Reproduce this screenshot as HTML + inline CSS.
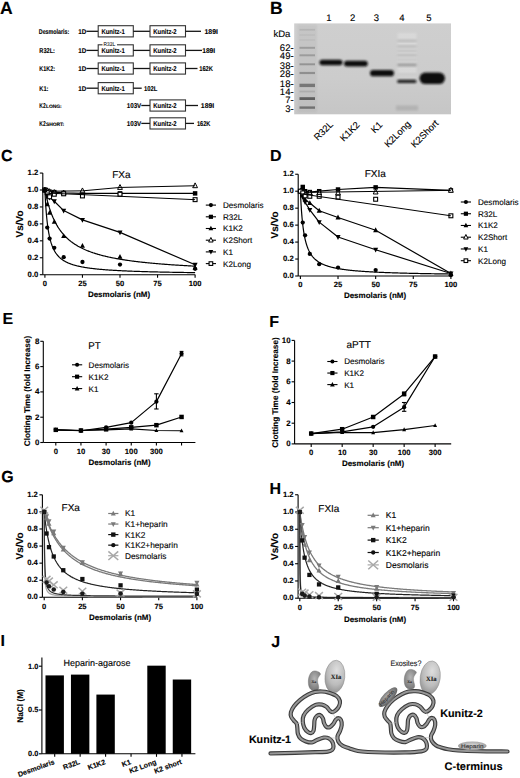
<!DOCTYPE html>
<html><head><meta charset="utf-8"><title>Figure</title>
<style>
html,body{margin:0;padding:0;background:#fff;}
svg{display:block;font-family:"Liberation Sans",sans-serif;text-rendering:geometricPrecision;}
</style></head>
<body>
<svg width="520" height="778" viewBox="0 0 520 778">
<rect width="520" height="778" fill="#fff"/>
<text x="0" y="13.8" font-size="17.6" font-weight="bold" stroke="#000" stroke-width="0.12">A</text>
<text x="38.8" y="34.21" font-size="7" font-weight="bold" stroke="#000" stroke-width="0.12" textLength="30.5" lengthAdjust="spacingAndGlyphs">Desmolaris:</text>
<text x="39.3" y="53.31" font-size="7" font-weight="bold" stroke="#000" stroke-width="0.12" textLength="15.7" lengthAdjust="spacingAndGlyphs">R32L:</text>
<text x="39.3" y="71.41" font-size="7" font-weight="bold" stroke="#000" stroke-width="0.12" textLength="15.7" lengthAdjust="spacingAndGlyphs">K1K2:</text>
<text x="39.3" y="91.11" font-size="7" font-weight="bold" stroke="#000" stroke-width="0.12" textLength="9.2" lengthAdjust="spacingAndGlyphs">K1:</text>
<text x="39.3" y="108.41" font-size="7" font-weight="bold" stroke="#000" stroke-width="0.12" textLength="6.4" lengthAdjust="spacingAndGlyphs">K2</text>
<text x="45.9" y="108.41" font-size="5" font-weight="bold" stroke="#000" stroke-width="0.12" textLength="15.8" lengthAdjust="spacingAndGlyphs">LONG:</text>
<text x="39.3" y="126.31" font-size="7" font-weight="bold" stroke="#000" stroke-width="0.12" textLength="6.4" lengthAdjust="spacingAndGlyphs">K2</text>
<text x="45.9" y="126.31" font-size="5" font-weight="bold" stroke="#000" stroke-width="0.12" textLength="18.3" lengthAdjust="spacingAndGlyphs">SHORT:</text>
<text x="78.3" y="34.11" font-size="7" font-weight="bold" stroke="#000" stroke-width="0.12" textLength="8" lengthAdjust="spacingAndGlyphs">1D</text>
<line x1="86.4" y1="31.3" x2="98.2" y2="31.3" stroke="#151515" stroke-width="1.3" />
<rect x="98.2" y="25.7" width="35.1" height="11.2" fill="#fff" stroke="#333" stroke-width="1.1" />
<text x="101.4" y="34.11" font-size="7" font-weight="bold" stroke="#000" stroke-width="0.12" textLength="23.5" lengthAdjust="spacingAndGlyphs">Kunitz-1</text>
<line x1="133.3" y1="31.3" x2="150" y2="31.3" stroke="#151515" stroke-width="1.3" />
<rect x="150" y="25.7" width="35.5" height="11.2" fill="#fff" stroke="#333" stroke-width="1.1" />
<text x="153.2" y="34.11" font-size="7" font-weight="bold" stroke="#000" stroke-width="0.12" textLength="23.5" lengthAdjust="spacingAndGlyphs">Kunitz-2</text>
<text x="78.3" y="53.21" font-size="7" font-weight="bold" stroke="#000" stroke-width="0.12" textLength="8" lengthAdjust="spacingAndGlyphs">1D</text>
<line x1="86.4" y1="50.4" x2="98.2" y2="50.4" stroke="#151515" stroke-width="1.3" />
<rect x="98.2" y="44.8" width="35.1" height="11.2" fill="#fff" stroke="#333" stroke-width="1.1" />
<text x="101.4" y="53.21" font-size="7" font-weight="bold" stroke="#000" stroke-width="0.12" textLength="23.5" lengthAdjust="spacingAndGlyphs">Kunitz-1</text>
<line x1="133.3" y1="50.4" x2="150" y2="50.4" stroke="#151515" stroke-width="1.3" />
<rect x="150" y="44.8" width="35.5" height="11.2" fill="#fff" stroke="#333" stroke-width="1.1" />
<text x="153.2" y="53.21" font-size="7" font-weight="bold" stroke="#000" stroke-width="0.12" textLength="23.5" lengthAdjust="spacingAndGlyphs">Kunitz-2</text>
<text x="78.3" y="71.31" font-size="7" font-weight="bold" stroke="#000" stroke-width="0.12" textLength="8" lengthAdjust="spacingAndGlyphs">1D</text>
<line x1="86.4" y1="68.5" x2="98.2" y2="68.5" stroke="#151515" stroke-width="1.3" />
<rect x="98.2" y="62.9" width="35.1" height="11.2" fill="#fff" stroke="#333" stroke-width="1.1" />
<text x="101.4" y="71.31" font-size="7" font-weight="bold" stroke="#000" stroke-width="0.12" textLength="23.5" lengthAdjust="spacingAndGlyphs">Kunitz-1</text>
<line x1="133.3" y1="68.5" x2="150" y2="68.5" stroke="#151515" stroke-width="1.3" />
<rect x="150" y="62.9" width="35.5" height="11.2" fill="#fff" stroke="#333" stroke-width="1.1" />
<text x="153.2" y="71.31" font-size="7" font-weight="bold" stroke="#000" stroke-width="0.12" textLength="23.5" lengthAdjust="spacingAndGlyphs">Kunitz-2</text>
<text x="78.3" y="91.01" font-size="7" font-weight="bold" stroke="#000" stroke-width="0.12" textLength="8" lengthAdjust="spacingAndGlyphs">1D</text>
<line x1="86.4" y1="88.2" x2="98.2" y2="88.2" stroke="#151515" stroke-width="1.3" />
<rect x="98.2" y="82.6" width="35.1" height="11.2" fill="#fff" stroke="#333" stroke-width="1.1" />
<text x="101.4" y="91.01" font-size="7" font-weight="bold" stroke="#000" stroke-width="0.12" textLength="23.5" lengthAdjust="spacingAndGlyphs">Kunitz-1</text>
<rect x="150" y="99.9" width="35.5" height="11.2" fill="#fff" stroke="#333" stroke-width="1.1" />
<text x="153.2" y="108.31" font-size="7" font-weight="bold" stroke="#000" stroke-width="0.12" textLength="23.5" lengthAdjust="spacingAndGlyphs">Kunitz-2</text>
<text x="126.7" y="108.31" font-size="7" font-weight="bold" stroke="#000" stroke-width="0.12" textLength="14.6" lengthAdjust="spacingAndGlyphs">103V</text>
<line x1="141.3" y1="105.5" x2="150" y2="105.5" stroke="#151515" stroke-width="1.3" />
<rect x="150" y="117.8" width="35.5" height="11.2" fill="#fff" stroke="#333" stroke-width="1.1" />
<text x="153.2" y="126.21" font-size="7" font-weight="bold" stroke="#000" stroke-width="0.12" textLength="23.5" lengthAdjust="spacingAndGlyphs">Kunitz-2</text>
<text x="126.7" y="126.21" font-size="7" font-weight="bold" stroke="#000" stroke-width="0.12" textLength="14.6" lengthAdjust="spacingAndGlyphs">103V</text>
<line x1="141.3" y1="123.4" x2="150" y2="123.4" stroke="#151515" stroke-width="1.3" />
<line x1="185.5" y1="31.3" x2="201" y2="31.3" stroke="#151515" stroke-width="1.3" />
<text x="204.5" y="34.11" font-size="7" font-weight="bold" stroke="#000" stroke-width="0.12" textLength="13.5" lengthAdjust="spacingAndGlyphs">189I</text>
<line x1="185.5" y1="50.4" x2="202" y2="50.4" stroke="#151515" stroke-width="1.3" />
<text x="202.2" y="53.21" font-size="7" font-weight="bold" stroke="#000" stroke-width="0.12" textLength="13" lengthAdjust="spacingAndGlyphs">189I</text>
<line x1="185.5" y1="68.5" x2="197.5" y2="68.5" stroke="#151515" stroke-width="1.3" />
<text x="199.2" y="71.31" font-size="7" font-weight="bold" stroke="#000" stroke-width="0.12" textLength="13.8" lengthAdjust="spacingAndGlyphs">162K</text>
<line x1="185.5" y1="105.5" x2="198" y2="105.5" stroke="#151515" stroke-width="1.3" />
<text x="200.8" y="108.31" font-size="7" font-weight="bold" stroke="#000" stroke-width="0.12" textLength="13.4" lengthAdjust="spacingAndGlyphs">189I</text>
<line x1="185.5" y1="123.4" x2="194" y2="123.4" stroke="#151515" stroke-width="1.3" />
<text x="196.9" y="126.21" font-size="7" font-weight="bold" stroke="#000" stroke-width="0.12" textLength="13.5" lengthAdjust="spacingAndGlyphs">162K</text>
<line x1="133.3" y1="88.2" x2="141.7" y2="88.2" stroke="#151515" stroke-width="1.3" />
<text x="144" y="91.01" font-size="7" font-weight="bold" stroke="#000" stroke-width="0.12" textLength="13.5" lengthAdjust="spacingAndGlyphs">102L</text>
<rect x="102.5" y="43" width="14.5" height="3.2" fill="#fff" />
<text x="103.6" y="46.4" font-size="5.3" fill="#222" stroke="#222" stroke-width="0.12" textLength="11.6" lengthAdjust="spacingAndGlyphs">R32L</text>
<text x="270" y="13.6" font-size="17.6" font-weight="bold" stroke="#000" stroke-width="0.12">B</text>
<defs><filter id="blur1" x="-20%" y="-50%" width="140%" height="200%"><feGaussianBlur stdDeviation="0.9"/></filter><filter id="blur2" x="-20%" y="-50%" width="140%" height="200%"><feGaussianBlur stdDeviation="1.1"/></filter><filter id="blur05" x="-20%" y="-50%" width="140%" height="200%"><feGaussianBlur stdDeviation="0.45"/></filter><radialGradient id="gXIa" cx="0.55" cy="0.3" r="0.75"><stop offset="0" stop-color="#dedede"/><stop offset="0.6" stop-color="#bcbcbc"/><stop offset="1" stop-color="#8c8c8c"/></radialGradient><radialGradient id="gXa" cx="0.5" cy="0.4" r="0.7"><stop offset="0" stop-color="#b5b5b5"/><stop offset="1" stop-color="#6f6f6f"/></radialGradient><radialGradient id="gHep" cx="0.5" cy="0.4" r="0.65"><stop offset="0" stop-color="#b8b8b8"/><stop offset="1" stop-color="#555"/></radialGradient><radialGradient id="gHep2" cx="0.5" cy="0.45" r="0.6"><stop offset="0" stop-color="#d8d8d8"/><stop offset="0.75" stop-color="#a8a8a8"/><stop offset="1" stop-color="#6e6e6e"/></radialGradient><linearGradient id="gGel" x1="0" y1="0" x2="0" y2="1"><stop offset="0" stop-color="#cfcfcf"/><stop offset="0.6" stop-color="#cccccc"/><stop offset="1" stop-color="#c6c6c6"/></linearGradient></defs>
<rect x="294.2" y="23.4" width="156.8" height="90.9" fill="url(#gGel)" />
<text x="328.9" y="21.4" font-size="9.5" text-anchor="middle" stroke="#000" stroke-width="0.12">1</text>
<text x="352.6" y="21.4" font-size="9.5" text-anchor="middle" stroke="#000" stroke-width="0.12">2</text>
<text x="376.4" y="21.4" font-size="9.5" text-anchor="middle" stroke="#000" stroke-width="0.12">3</text>
<text x="401.8" y="21.4" font-size="9.5" text-anchor="middle" stroke="#000" stroke-width="0.12">4</text>
<text x="429" y="21.4" font-size="9.5" text-anchor="middle" stroke="#000" stroke-width="0.12">5</text>
<text x="273.4" y="36.6" font-size="9.5" stroke="#000" stroke-width="0.12">kDa</text>
<text x="293.6" y="51" font-size="9.5" text-anchor="end" stroke="#000" stroke-width="0.12">62-</text>
<text x="293.6" y="58.8" font-size="9.5" text-anchor="end" stroke="#000" stroke-width="0.12">49-</text>
<text x="293.6" y="68.8" font-size="9.5" text-anchor="end" stroke="#000" stroke-width="0.12">38-</text>
<text x="293.6" y="76.9" font-size="9.5" text-anchor="end" stroke="#000" stroke-width="0.12">28-</text>
<text x="293.6" y="86.9" font-size="9.5" text-anchor="end" stroke="#000" stroke-width="0.12">18-</text>
<text x="293.6" y="95" font-size="9.5" text-anchor="end" stroke="#000" stroke-width="0.12">14-</text>
<text x="293.6" y="102.8" font-size="9.5" text-anchor="end" stroke="#000" stroke-width="0.12">7-</text>
<text x="293.6" y="112.1" font-size="9.5" text-anchor="end" stroke="#000" stroke-width="0.12">3-</text>
<rect x="297.5" y="24.5" width="19.5" height="88" fill="#000" opacity="0.04" filter="url(#blur1)"/>
<rect x="299.5" y="28.9" width="15.5" height="1.8" fill="#000" opacity="0.08" filter="url(#blur05)"/>
<rect x="299.5" y="34.1" width="15.5" height="1.8" fill="#000" opacity="0.04" filter="url(#blur05)"/>
<rect x="299.5" y="39.1" width="15.5" height="1.8" fill="#000" opacity="0.04" filter="url(#blur05)"/>
<rect x="299.5" y="46.8" width="15.5" height="2" fill="#000" opacity="0.2" filter="url(#blur05)"/>
<rect x="299.5" y="54.3" width="15.5" height="2" fill="#000" opacity="0.2" filter="url(#blur05)"/>
<rect x="299.5" y="63.3" width="15.5" height="2" fill="#000" opacity="0.24" filter="url(#blur05)"/>
<rect x="299.5" y="71.9" width="15.5" height="2.2" fill="#000" opacity="0.26" filter="url(#blur05)"/>
<rect x="299.5" y="83.7" width="15.5" height="3.4" fill="#000" opacity="0.38" filter="url(#blur05)"/>
<rect x="299.5" y="90.6" width="15.5" height="1.8" fill="#000" opacity="0.1" filter="url(#blur05)"/>
<rect x="299.5" y="97.2" width="15.5" height="2.8" fill="#000" opacity="0.5" filter="url(#blur05)"/>
<rect x="299.5" y="106.4" width="15.5" height="2.4" fill="#000" opacity="0.4" filter="url(#blur05)"/>
<rect x="319.4" y="59.7" width="23.2" height="5.6" rx="2.8" fill="#111" opacity="1" filter="url(#blur1)"/>
<rect x="344" y="60.7" width="23.8" height="5.8" rx="2.9" fill="#111" opacity="1" filter="url(#blur1)"/>
<rect x="370" y="70.1" width="24" height="6.2" rx="3.1" fill="#111" opacity="1" filter="url(#blur1)"/>
<rect x="419.5" y="72.5" width="25.5" height="11.6" rx="5.8" fill="#111" opacity="1" filter="url(#blur1)"/>
<rect x="397.5" y="33" width="19" height="44" fill="#fff" opacity="0.22" filter="url(#blur1)"/>
<rect x="397.5" y="39.7" width="19" height="2.2" fill="#000" opacity="0.15" filter="url(#blur1)"/>
<rect x="397.5" y="45.4" width="19" height="2.2" fill="#000" opacity="0.15" filter="url(#blur1)"/>
<rect x="397.5" y="49.9" width="19" height="2" fill="#000" opacity="0.12" filter="url(#blur1)"/>
<rect x="397.5" y="54.1" width="19" height="2.2" fill="#000" opacity="0.15" filter="url(#blur1)"/>
<rect x="397.5" y="58.6" width="19" height="2" fill="#000" opacity="0.1" filter="url(#blur1)"/>
<rect x="397.5" y="63.4" width="19" height="3" fill="#000" opacity="0.27" filter="url(#blur1)"/>
<rect x="397.5" y="73.5" width="19" height="2" fill="#000" opacity="0.08" filter="url(#blur1)"/>
<rect x="397" y="79.7" width="19.5" height="3.4" rx="1.7" fill="#111" opacity="0.9" filter="url(#blur1)"/>
<rect x="396" y="105.5" width="22" height="5" fill="#000" opacity="0.1" filter="url(#blur1)"/>
<text x="333.8" y="125" font-size="9.5" text-anchor="end" stroke="#000" stroke-width="0.12" transform="rotate(-45 333.8 125)">R32L</text>
<text x="360.3" y="125.5" font-size="9.5" text-anchor="end" stroke="#000" stroke-width="0.12" transform="rotate(-45 360.3 125.5)">K1K2</text>
<text x="383" y="125.5" font-size="9.5" text-anchor="end" stroke="#000" stroke-width="0.12" transform="rotate(-45 383 125.5)">K1</text>
<text x="411.3" y="124.8" font-size="9.5" text-anchor="end" stroke="#000" stroke-width="0.12" transform="rotate(-45 411.3 124.8)">K2Long</text>
<text x="439" y="124" font-size="9.5" text-anchor="end" stroke="#000" stroke-width="0.12" transform="rotate(-45 439 124)">K2Short</text>
<text x="1" y="161" font-size="16" font-weight="bold" stroke="#000" stroke-width="0.12">C</text>
<line x1="42.8" y1="173.06" x2="42.8" y2="274.7" stroke="#000" stroke-width="1.1" />
<line x1="39.8" y1="274.7" x2="42.8" y2="274.7" stroke="#000" stroke-width="1.1" />
<text x="38.3" y="276.86" font-size="7.7" font-weight="bold" text-anchor="end" stroke="#000" stroke-width="0.12">0.0</text>
<line x1="39.8" y1="257.76" x2="42.8" y2="257.76" stroke="#000" stroke-width="1.1" />
<text x="38.3" y="259.92" font-size="7.7" font-weight="bold" text-anchor="end" stroke="#000" stroke-width="0.12">0.2</text>
<line x1="39.8" y1="240.82" x2="42.8" y2="240.82" stroke="#000" stroke-width="1.1" />
<text x="38.3" y="242.98" font-size="7.7" font-weight="bold" text-anchor="end" stroke="#000" stroke-width="0.12">0.4</text>
<line x1="39.8" y1="223.88" x2="42.8" y2="223.88" stroke="#000" stroke-width="1.1" />
<text x="38.3" y="226.04" font-size="7.7" font-weight="bold" text-anchor="end" stroke="#000" stroke-width="0.12">0.6</text>
<line x1="39.8" y1="206.94" x2="42.8" y2="206.94" stroke="#000" stroke-width="1.1" />
<text x="38.3" y="209.1" font-size="7.7" font-weight="bold" text-anchor="end" stroke="#000" stroke-width="0.12">0.8</text>
<line x1="39.8" y1="190" x2="42.8" y2="190" stroke="#000" stroke-width="1.1" />
<text x="38.3" y="192.16" font-size="7.7" font-weight="bold" text-anchor="end" stroke="#000" stroke-width="0.12">1.0</text>
<line x1="39.8" y1="173.06" x2="42.8" y2="173.06" stroke="#000" stroke-width="1.1" />
<text x="38.3" y="175.22" font-size="7.7" font-weight="bold" text-anchor="end" stroke="#000" stroke-width="0.12">1.2</text>
<line x1="42.8" y1="274.7" x2="195.3" y2="274.7" stroke="#000" stroke-width="1.1" />
<line x1="44.9" y1="274.7" x2="44.9" y2="277.7" stroke="#000" stroke-width="1.1" />
<text x="44.9" y="286.02" font-size="7.6" font-weight="bold" text-anchor="middle" stroke="#000" stroke-width="0.12">0</text>
<line x1="82.45" y1="274.7" x2="82.45" y2="277.7" stroke="#000" stroke-width="1.1" />
<text x="82.45" y="286.02" font-size="7.6" font-weight="bold" text-anchor="middle" stroke="#000" stroke-width="0.12">25</text>
<line x1="120" y1="274.7" x2="120" y2="277.7" stroke="#000" stroke-width="1.1" />
<text x="120" y="286.02" font-size="7.6" font-weight="bold" text-anchor="middle" stroke="#000" stroke-width="0.12">50</text>
<line x1="157.55" y1="274.7" x2="157.55" y2="277.7" stroke="#000" stroke-width="1.1" />
<text x="157.55" y="286.02" font-size="7.6" font-weight="bold" text-anchor="middle" stroke="#000" stroke-width="0.12">75</text>
<line x1="195.1" y1="274.7" x2="195.1" y2="277.7" stroke="#000" stroke-width="1.1" />
<text x="195.1" y="286.02" font-size="7.6" font-weight="bold" text-anchor="middle" stroke="#000" stroke-width="0.12">100</text>
<text x="112.2" y="178.38" font-size="10" stroke="#000" stroke-width="0.12">FXa</text>
<text x="119" y="297.46" font-size="8" font-weight="bold" text-anchor="middle" stroke="#000" stroke-width="0.12">Desmolaris (nM)</text>
<text x="22.6" y="223.9" font-size="10" font-weight="bold" text-anchor="middle" stroke="#000" stroke-width="0.12" transform="rotate(-90 22.6 223.9)">Vs/Vo</text>
<path d="M44.9 190 L44.9 190.01 L44.9 190.06 L44.91 190.13 L44.91 190.25 L44.92 190.41 L44.93 190.62 L44.94 190.86 L44.95 191.15 L44.97 191.49 L44.98 191.86 L45 192.29 L45.03 192.75 L45.05 193.26 L45.08 193.82 L45.11 194.41 L45.14 195.04 L45.17 195.71 L45.21 196.42 L45.25 197.16 L45.29 197.94 L45.33 198.75 L45.38 199.58 L45.43 200.45 L45.48 201.33 L45.53 202.24 L45.59 203.18 L45.65 204.13 L45.71 205.09 L45.78 206.08 L45.85 207.07 L45.92 208.07 L45.99 209.09 L46.07 210.11 L46.15 211.13 L46.23 212.16 L46.32 213.19 L46.4 214.22 L46.49 215.24 L46.59 216.27 L46.68 217.29 L46.78 218.3 L46.89 219.31 L46.99 220.31 L47.1 221.3 L47.21 222.28 L47.33 223.25 L47.44 224.21 L47.57 225.16 L47.69 226.1 L47.82 227.02 L47.95 227.93 L48.08 228.83 L48.21 229.71 L48.35 230.58 L48.5 231.43 L48.64 232.27 L48.79 233.1 L48.94 233.91 L49.1 234.7 L49.25 235.48 L49.42 236.25 L49.58 237 L49.75 237.73 L49.92 238.45 L50.09 239.16 L50.27 239.85 L50.45 240.52 L50.63 241.19 L50.82 241.83 L51.01 242.47 L51.21 243.09 L51.4 243.7 L51.6 244.29 L51.81 244.87 L52.01 245.44 L52.22 245.99 L52.44 246.54 L52.66 247.07 L52.88 247.59 L53.1 248.1 L53.33 248.59 L53.56 249.08 L53.79 249.55 L54.03 250.01 L54.27 250.47 L54.51 250.91 L54.76 251.34 L55.01 251.77 L55.27 252.18 L55.53 252.58 L55.79 252.98 L56.05 253.36 L56.32 253.74 L56.59 254.11 L56.87 254.47 L57.15 254.82 L57.43 255.17 L57.71 255.51 L58 255.83 L58.3 256.16 L58.59 256.47 L58.89 256.78 L59.2 257.08 L59.5 257.38 L59.81 257.66 L60.13 257.95 L60.45 258.22 L60.77 258.49 L61.09 258.76 L61.42 259.01 L61.75 259.27 L62.09 259.52 L62.43 259.76 L62.77 259.99 L63.12 260.23 L63.47 260.45 L63.82 260.68 L64.18 260.89 L64.54 261.11 L64.91 261.32 L65.28 261.52 L65.65 261.72 L66.02 261.92 L66.4 262.11 L66.79 262.3 L67.18 262.48 L67.57 262.66 L67.96 262.84 L68.36 263.01 L68.76 263.18 L69.17 263.35 L69.58 263.51 L69.99 263.67 L70.41 263.83 L70.83 263.98 L71.25 264.14 L71.68 264.28 L72.11 264.43 L72.55 264.57 L72.99 264.71 L73.43 264.85 L73.88 264.98 L74.33 265.11 L74.78 265.24 L75.24 265.37 L75.7 265.5 L76.17 265.62 L76.64 265.74 L77.11 265.86 L77.59 265.97 L78.07 266.09 L78.56 266.2 L79.04 266.31 L79.54 266.42 L80.03 266.52 L80.54 266.63 L81.04 266.73 L81.55 266.83 L82.06 266.93 L82.58 267.02 L83.1 267.12 L83.62 267.21 L84.15 267.3 L84.68 267.39 L85.22 267.48 L85.75 267.57 L86.3 267.66 L86.85 267.74 L87.4 267.82 L87.95 267.91 L88.51 267.99 L89.07 268.06 L89.64 268.14 L90.21 268.22 L90.79 268.29 L91.37 268.37 L91.95 268.44 L92.54 268.51 L93.13 268.58 L93.72 268.65 L94.32 268.72 L94.92 268.79 L95.53 268.85 L96.14 268.92 L96.75 268.98 L97.37 269.04 L98 269.11 L98.62 269.17 L99.25 269.23 L99.89 269.29 L100.53 269.34 L101.17 269.4 L101.82 269.46 L102.47 269.51 L103.12 269.57 L103.78 269.62 L104.44 269.68 L105.11 269.73 L105.78 269.78 L106.46 269.83 L107.13 269.88 L107.82 269.93 L108.51 269.98 L109.2 270.03 L109.89 270.07 L110.59 270.12 L111.3 270.17 L112 270.21 L112.71 270.26 L113.43 270.3 L114.15 270.34 L114.87 270.39 L115.6 270.43 L116.34 270.47 L117.07 270.51 L117.81 270.55 L118.56 270.59 L119.31 270.63 L120.06 270.67 L120.82 270.71 L121.58 270.75 L122.34 270.78 L123.11 270.82 L123.89 270.86 L124.66 270.89 L125.45 270.93 L126.23 270.96 L127.02 271 L127.82 271.03 L128.62 271.06 L129.42 271.1 L130.23 271.13 L131.04 271.16 L131.85 271.19 L132.67 271.23 L133.5 271.26 L134.32 271.29 L135.16 271.32 L135.99 271.35 L136.83 271.38 L137.68 271.41 L138.53 271.43 L139.38 271.46 L140.24 271.49 L141.1 271.52 L141.96 271.55 L142.83 271.57 L143.71 271.6 L144.59 271.63 L145.47 271.65 L146.36 271.68 L147.25 271.7 L148.14 271.73 L149.04 271.75 L149.95 271.78 L150.86 271.8 L151.77 271.82 L152.69 271.85 L153.61 271.87 L154.53 271.9 L155.46 271.92 L156.4 271.94 L157.34 271.96 L158.28 271.98 L159.23 272.01 L160.18 272.03 L161.13 272.05 L162.09 272.07 L163.06 272.09 L164.03 272.11 L165 272.13 L165.98 272.15 L166.96 272.17 L167.94 272.19 L168.93 272.21 L169.93 272.23 L170.93 272.25 L171.93 272.27 L172.94 272.29 L173.95 272.31 L174.96 272.32 L175.98 272.34 L177.01 272.36 L178.04 272.38 L179.07 272.39 L180.11 272.41 L181.15 272.43 L182.2 272.45 L183.25 272.46 L184.31 272.48 L185.36 272.49 L186.43 272.51 L187.5 272.53 L188.57 272.54 L189.65 272.56 L190.73 272.57 L191.82 272.59 L192.91 272.6 L194 272.62 L195.1 272.63" fill="none" stroke="#000" stroke-width="1.2" stroke-linejoin="round" />
<path d="M44.9 190 L44.9 190 L44.9 190.01 L44.91 190.03 L44.91 190.06 L44.92 190.09 L44.93 190.14 L44.94 190.19 L44.95 190.26 L44.97 190.34 L44.98 190.42 L45 190.52 L45.03 190.63 L45.05 190.75 L45.08 190.88 L45.11 191.03 L45.14 191.18 L45.17 191.35 L45.21 191.52 L45.25 191.71 L45.29 191.91 L45.33 192.12 L45.38 192.34 L45.43 192.58 L45.48 192.82 L45.53 193.08 L45.59 193.35 L45.65 193.62 L45.71 193.91 L45.78 194.21 L45.85 194.52 L45.92 194.84 L45.99 195.16 L46.07 195.5 L46.15 195.85 L46.23 196.21 L46.32 196.57 L46.4 196.95 L46.49 197.33 L46.59 197.72 L46.68 198.12 L46.78 198.53 L46.89 198.95 L46.99 199.37 L47.1 199.8 L47.21 200.24 L47.33 200.68 L47.44 201.13 L47.57 201.58 L47.69 202.05 L47.82 202.51 L47.95 202.98 L48.08 203.46 L48.21 203.94 L48.35 204.43 L48.5 204.92 L48.64 205.41 L48.79 205.91 L48.94 206.41 L49.1 206.91 L49.25 207.42 L49.42 207.92 L49.58 208.44 L49.75 208.95 L49.92 209.46 L50.09 209.98 L50.27 210.5 L50.45 211.01 L50.63 211.53 L50.82 212.05 L51.01 212.57 L51.21 213.09 L51.4 213.61 L51.6 214.13 L51.81 214.65 L52.01 215.17 L52.22 215.69 L52.44 216.21 L52.66 216.73 L52.88 217.24 L53.1 217.76 L53.33 218.27 L53.56 218.78 L53.79 219.29 L54.03 219.79 L54.27 220.3 L54.51 220.8 L54.76 221.3 L55.01 221.8 L55.27 222.3 L55.53 222.79 L55.79 223.28 L56.05 223.76 L56.32 224.25 L56.59 224.73 L56.87 225.21 L57.15 225.68 L57.43 226.15 L57.71 226.62 L58 227.09 L58.3 227.55 L58.59 228.01 L58.89 228.46 L59.2 228.91 L59.5 229.36 L59.81 229.8 L60.13 230.24 L60.45 230.68 L60.77 231.11 L61.09 231.54 L61.42 231.97 L61.75 232.39 L62.09 232.81 L62.43 233.22 L62.77 233.63 L63.12 234.04 L63.47 234.44 L63.82 234.84 L64.18 235.23 L64.54 235.63 L64.91 236.01 L65.28 236.4 L65.65 236.78 L66.02 237.15 L66.4 237.52 L66.79 237.89 L67.18 238.26 L67.57 238.62 L67.96 238.97 L68.36 239.33 L68.76 239.68 L69.17 240.02 L69.58 240.36 L69.99 240.7 L70.41 241.04 L70.83 241.37 L71.25 241.7 L71.68 242.02 L72.11 242.34 L72.55 242.66 L72.99 242.97 L73.43 243.28 L73.88 243.59 L74.33 243.89 L74.78 244.19 L75.24 244.49 L75.7 244.78 L76.17 245.07 L76.64 245.36 L77.11 245.64 L77.59 245.92 L78.07 246.2 L78.56 246.47 L79.04 246.74 L79.54 247.01 L80.03 247.28 L80.54 247.54 L81.04 247.8 L81.55 248.05 L82.06 248.31 L82.58 248.56 L83.1 248.8 L83.62 249.05 L84.15 249.29 L84.68 249.53 L85.22 249.76 L85.75 250 L86.3 250.23 L86.85 250.45 L87.4 250.68 L87.95 250.9 L88.51 251.12 L89.07 251.34 L89.64 251.56 L90.21 251.77 L90.79 251.98 L91.37 252.19 L91.95 252.39 L92.54 252.59 L93.13 252.8 L93.72 252.99 L94.32 253.19 L94.92 253.38 L95.53 253.58 L96.14 253.77 L96.75 253.95 L97.37 254.14 L98 254.32 L98.62 254.5 L99.25 254.68 L99.89 254.86 L100.53 255.03 L101.17 255.21 L101.82 255.38 L102.47 255.55 L103.12 255.71 L103.78 255.88 L104.44 256.04 L105.11 256.2 L105.78 256.36 L106.46 256.52 L107.13 256.68 L107.82 256.83 L108.51 256.98 L109.2 257.14 L109.89 257.28 L110.59 257.43 L111.3 257.58 L112 257.72 L112.71 257.87 L113.43 258.01 L114.15 258.15 L114.87 258.28 L115.6 258.42 L116.34 258.56 L117.07 258.69 L117.81 258.82 L118.56 258.95 L119.31 259.08 L120.06 259.21 L120.82 259.34 L121.58 259.46 L122.34 259.58 L123.11 259.71 L123.89 259.83 L124.66 259.95 L125.45 260.07 L126.23 260.18 L127.02 260.3 L127.82 260.41 L128.62 260.53 L129.42 260.64 L130.23 260.75 L131.04 260.86 L131.85 260.97 L132.67 261.08 L133.5 261.18 L134.32 261.29 L135.16 261.39 L135.99 261.5 L136.83 261.6 L137.68 261.7 L138.53 261.8 L139.38 261.9 L140.24 262 L141.1 262.09 L141.96 262.19 L142.83 262.28 L143.71 262.38 L144.59 262.47 L145.47 262.56 L146.36 262.65 L147.25 262.74 L148.14 262.83 L149.04 262.92 L149.95 263.01 L150.86 263.1 L151.77 263.18 L152.69 263.27 L153.61 263.35 L154.53 263.43 L155.46 263.51 L156.4 263.6 L157.34 263.68 L158.28 263.76 L159.23 263.84 L160.18 263.91 L161.13 263.99 L162.09 264.07 L163.06 264.14 L164.03 264.22 L165 264.29 L165.98 264.37 L166.96 264.44 L167.94 264.51 L168.93 264.58 L169.93 264.66 L170.93 264.73 L171.93 264.79 L172.94 264.86 L173.95 264.93 L174.96 265 L175.98 265.07 L177.01 265.13 L178.04 265.2 L179.07 265.26 L180.11 265.33 L181.15 265.39 L182.2 265.45 L183.25 265.52 L184.31 265.58 L185.36 265.64 L186.43 265.7 L187.5 265.76 L188.57 265.82 L189.65 265.88 L190.73 265.94 L191.82 266 L192.91 266.06 L194 266.11 L195.1 266.17" fill="none" stroke="#000" stroke-width="1.2" stroke-linejoin="round" />
<path d="M44.9 190 L47.25 195.93 L49.59 197.62 L54.29 201.27 L63.67 210.58 L82.45 219.9 L120 232.35 L195.1 264.79" fill="none" stroke="#000" stroke-width="1.2" stroke-linejoin="round" />
<path d="M44.9 192.9L47.43 188.07L42.37 188.07Z" fill="#000" />
<path d="M47.25 198.83L49.78 194L44.72 194Z" fill="#000" />
<path d="M49.59 200.52L52.12 195.69L47.06 195.69Z" fill="#000" />
<path d="M54.29 204.16L56.82 199.33L51.76 199.33Z" fill="#000" />
<path d="M63.67 213.48L66.2 208.65L61.14 208.65Z" fill="#000" />
<path d="M82.45 222.8L84.98 217.97L79.92 217.97Z" fill="#000" />
<path d="M120 235.25L122.53 230.42L117.47 230.42Z" fill="#000" />
<path d="M195.1 267.69L197.63 262.86L192.57 262.86Z" fill="#000" />
<path d="M44.9 190 L47.25 190.85 L49.59 191.69 L54.29 192.12 L63.67 192.96 L82.45 193.39 L120 193.39 L195.1 193.39" fill="none" stroke="#000" stroke-width="1.2" stroke-linejoin="round" />
<rect x="42.67" y="187.77" width="4.46" height="4.46" fill="#000" />
<rect x="45.02" y="188.62" width="4.46" height="4.46" fill="#000" />
<rect x="47.36" y="189.46" width="4.46" height="4.46" fill="#000" />
<rect x="52.06" y="189.89" width="4.46" height="4.46" fill="#000" />
<rect x="61.44" y="190.73" width="4.46" height="4.46" fill="#000" />
<rect x="80.22" y="191.16" width="4.46" height="4.46" fill="#000" />
<rect x="117.77" y="191.16" width="4.46" height="4.46" fill="#000" />
<rect x="192.87" y="191.16" width="4.46" height="4.46" fill="#000" />
<path d="M44.9 187.1L47.31 191.93L42.48 191.93Z" fill="#fff" stroke="#000" stroke-width="1" />
<path d="M47.25 187.95L49.66 192.78L44.83 192.78Z" fill="#fff" stroke="#000" stroke-width="1" />
<path d="M49.59 188.8L52.01 193.63L47.18 193.63Z" fill="#fff" stroke="#000" stroke-width="1" />
<path d="M54.29 189.64L56.7 194.47L51.87 194.47Z" fill="#fff" stroke="#000" stroke-width="1" />
<path d="M63.67 190.07L66.09 194.9L61.26 194.9Z" fill="#fff" stroke="#000" stroke-width="1" />
<path d="M82.45 187.95L84.86 192.78L80.03 192.78Z" fill="#fff" stroke="#000" stroke-width="1" />
<path d="M120 184.56L122.42 189.39L117.58 189.39Z" fill="#fff" stroke="#000" stroke-width="1" />
<path d="M195.1 182.87L197.51 187.7L192.69 187.7Z" fill="#fff" stroke="#000" stroke-width="1" />
<path d="M44.9 191.27 L82.45 190.85 L120 187.46 L195.1 185.76" fill="none" stroke="#000" stroke-width="1" stroke-linejoin="round" />
<rect x="42.95" y="188.04" width="3.91" height="3.91" fill="#fff" stroke="#000" stroke-width="1.1" />
<rect x="45.29" y="190.59" width="3.91" height="3.91" fill="#fff" stroke="#000" stroke-width="1.1" />
<rect x="47.64" y="194.82" width="3.91" height="3.91" fill="#fff" stroke="#000" stroke-width="1.1" />
<rect x="52.33" y="192.28" width="3.91" height="3.91" fill="#fff" stroke="#000" stroke-width="1.1" />
<rect x="61.72" y="191.86" width="3.91" height="3.91" fill="#fff" stroke="#000" stroke-width="1.1" />
<rect x="80.49" y="193.97" width="3.91" height="3.91" fill="#fff" stroke="#000" stroke-width="1.1" />
<rect x="118.05" y="192.28" width="3.91" height="3.91" fill="#fff" stroke="#000" stroke-width="1.1" />
<rect x="193.14" y="197.7" width="3.91" height="3.91" fill="#fff" stroke="#000" stroke-width="1.1" />
<path d="M44.9 192.96 L195.1 199.66" fill="none" stroke="#000" stroke-width="1" stroke-linejoin="round" />
<path d="M44.9 187.1L47.43 191.93L42.37 191.93Z" fill="#000" />
<path d="M47.25 201.5L49.78 206.33L44.72 206.33Z" fill="#000" />
<path d="M49.59 209.97L52.12 214.8L47.06 214.8Z" fill="#000" />
<path d="M54.29 218.95L56.82 223.78L51.76 223.78Z" fill="#000" />
<path d="M63.67 233.26L66.2 238.09L61.14 238.09Z" fill="#000" />
<path d="M82.45 243L84.98 247.83L79.92 247.83Z" fill="#000" />
<path d="M120 254.02L122.53 258.85L117.47 258.85Z" fill="#000" />
<path d="M195.1 265.03L197.63 269.86L192.57 269.86Z" fill="#000" />
<circle cx="44.9" cy="190" r="2.14" fill="#000"/>
<circle cx="47.25" cy="227.52" r="2.14" fill="#000"/>
<circle cx="49.59" cy="238.53" r="2.14" fill="#000"/>
<circle cx="54.29" cy="247.77" r="2.14" fill="#000"/>
<circle cx="63.67" cy="257.17" r="2.14" fill="#000"/>
<circle cx="82.45" cy="262" r="2.14" fill="#000"/>
<circle cx="120" cy="264.54" r="2.14" fill="#000"/>
<circle cx="195.1" cy="268.77" r="2.14" fill="#000"/>
<line x1="205.8" y1="205.1" x2="216" y2="205.1" stroke="#000" stroke-width="1.1" />
<circle cx="210.9" cy="205.1" r="2.04" fill="#000"/>
<text x="223" y="208" font-size="8.1" stroke="#000" stroke-width="0.12">Desmolaris</text>
<line x1="205.8" y1="216.8" x2="216" y2="216.8" stroke="#000" stroke-width="1.1" />
<rect x="208.81" y="214.71" width="4.17" height="4.17" fill="#000" />
<text x="223" y="219.7" font-size="8.1" stroke="#000" stroke-width="0.12">R32L</text>
<line x1="205.8" y1="228.5" x2="216" y2="228.5" stroke="#000" stroke-width="1.1" />
<path d="M210.9 225.79L213.27 230.31L208.53 230.31Z" fill="#000" />
<text x="223" y="231.4" font-size="8.1" stroke="#000" stroke-width="0.12">K1K2</text>
<line x1="205.8" y1="240.2" x2="216" y2="240.2" stroke="#000" stroke-width="1.1" />
<path d="M210.9 237.49L213.16 242.01L208.64 242.01Z" fill="#fff" stroke="#000" stroke-width="1" />
<text x="223" y="243.1" font-size="8.1" stroke="#000" stroke-width="0.12">K2Short</text>
<line x1="205.8" y1="251.9" x2="216" y2="251.9" stroke="#000" stroke-width="1.1" />
<path d="M210.9 254.61L213.27 250.09L208.53 250.09Z" fill="#000" />
<text x="223" y="254.8" font-size="8.1" stroke="#000" stroke-width="0.12">K1</text>
<line x1="205.8" y1="263.6" x2="216" y2="263.6" stroke="#000" stroke-width="1.1" />
<rect x="209.07" y="261.77" width="3.65" height="3.65" fill="#fff" stroke="#000" stroke-width="1.1" />
<text x="223" y="266.5" font-size="8.1" stroke="#000" stroke-width="0.12">K2Long</text>
<text x="270" y="161" font-size="16" font-weight="bold" stroke="#000" stroke-width="0.12">D</text>
<line x1="298.2" y1="174.24" x2="298.2" y2="276" stroke="#000" stroke-width="1.1" />
<line x1="295.2" y1="276" x2="298.2" y2="276" stroke="#000" stroke-width="1.1" />
<text x="293.7" y="278.16" font-size="7.7" font-weight="bold" text-anchor="end" stroke="#000" stroke-width="0.12">0.0</text>
<line x1="295.2" y1="259.04" x2="298.2" y2="259.04" stroke="#000" stroke-width="1.1" />
<text x="293.7" y="261.2" font-size="7.7" font-weight="bold" text-anchor="end" stroke="#000" stroke-width="0.12">0.2</text>
<line x1="295.2" y1="242.08" x2="298.2" y2="242.08" stroke="#000" stroke-width="1.1" />
<text x="293.7" y="244.24" font-size="7.7" font-weight="bold" text-anchor="end" stroke="#000" stroke-width="0.12">0.4</text>
<line x1="295.2" y1="225.12" x2="298.2" y2="225.12" stroke="#000" stroke-width="1.1" />
<text x="293.7" y="227.28" font-size="7.7" font-weight="bold" text-anchor="end" stroke="#000" stroke-width="0.12">0.6</text>
<line x1="295.2" y1="208.16" x2="298.2" y2="208.16" stroke="#000" stroke-width="1.1" />
<text x="293.7" y="210.32" font-size="7.7" font-weight="bold" text-anchor="end" stroke="#000" stroke-width="0.12">0.8</text>
<line x1="295.2" y1="191.2" x2="298.2" y2="191.2" stroke="#000" stroke-width="1.1" />
<text x="293.7" y="193.36" font-size="7.7" font-weight="bold" text-anchor="end" stroke="#000" stroke-width="0.12">1.0</text>
<line x1="295.2" y1="174.24" x2="298.2" y2="174.24" stroke="#000" stroke-width="1.1" />
<text x="293.7" y="176.4" font-size="7.7" font-weight="bold" text-anchor="end" stroke="#000" stroke-width="0.12">1.2</text>
<line x1="298.2" y1="276" x2="451" y2="276" stroke="#000" stroke-width="1.1" />
<line x1="300.4" y1="276" x2="300.4" y2="279" stroke="#000" stroke-width="1.1" />
<text x="300.4" y="287.32" font-size="7.6" font-weight="bold" text-anchor="middle" stroke="#000" stroke-width="0.12">0</text>
<line x1="338.02" y1="276" x2="338.02" y2="279" stroke="#000" stroke-width="1.1" />
<text x="338.02" y="287.32" font-size="7.6" font-weight="bold" text-anchor="middle" stroke="#000" stroke-width="0.12">25</text>
<line x1="375.65" y1="276" x2="375.65" y2="279" stroke="#000" stroke-width="1.1" />
<text x="375.65" y="287.32" font-size="7.6" font-weight="bold" text-anchor="middle" stroke="#000" stroke-width="0.12">50</text>
<line x1="413.27" y1="276" x2="413.27" y2="279" stroke="#000" stroke-width="1.1" />
<text x="413.27" y="287.32" font-size="7.6" font-weight="bold" text-anchor="middle" stroke="#000" stroke-width="0.12">75</text>
<line x1="450.9" y1="276" x2="450.9" y2="279" stroke="#000" stroke-width="1.1" />
<text x="450.9" y="287.32" font-size="7.6" font-weight="bold" text-anchor="middle" stroke="#000" stroke-width="0.12">100</text>
<text x="364.7" y="176.88" font-size="10" stroke="#000" stroke-width="0.12">FXIa</text>
<text x="375" y="298.46" font-size="8" font-weight="bold" text-anchor="middle" stroke="#000" stroke-width="0.12">Desmolaris (nM)</text>
<text x="277.8" y="225" font-size="10" font-weight="bold" text-anchor="middle" stroke="#000" stroke-width="0.12" transform="rotate(-90 277.8 225)">Vs/Vo</text>
<path d="M300.4 191.2 L300.4 191.21 L300.4 191.26 L300.41 191.34 L300.41 191.46 L300.42 191.63 L300.43 191.84 L300.44 192.1 L300.45 192.4 L300.47 192.75 L300.48 193.14 L300.5 193.58 L300.53 194.07 L300.55 194.6 L300.58 195.17 L300.61 195.79 L300.64 196.45 L300.67 197.14 L300.71 197.88 L300.75 198.65 L300.79 199.45 L300.83 200.28 L300.88 201.15 L300.93 202.04 L300.98 202.95 L301.04 203.89 L301.09 204.85 L301.15 205.83 L301.22 206.82 L301.28 207.83 L301.35 208.85 L301.42 209.88 L301.49 210.92 L301.57 211.96 L301.65 213.01 L301.73 214.06 L301.82 215.11 L301.91 216.16 L302 217.2 L302.09 218.24 L302.19 219.28 L302.29 220.31 L302.39 221.33 L302.5 222.34 L302.61 223.35 L302.72 224.34 L302.83 225.32 L302.95 226.29 L303.07 227.25 L303.19 228.19 L303.32 229.12 L303.45 230.03 L303.58 230.93 L303.72 231.82 L303.86 232.69 L304 233.55 L304.15 234.39 L304.3 235.21 L304.45 236.02 L304.6 236.82 L304.76 237.59 L304.92 238.36 L305.09 239.1 L305.26 239.84 L305.43 240.55 L305.6 241.25 L305.78 241.94 L305.96 242.61 L306.15 243.27 L306.33 243.91 L306.52 244.54 L306.72 245.16 L306.92 245.76 L307.12 246.35 L307.32 246.92 L307.53 247.48 L307.74 248.03 L307.95 248.57 L308.17 249.09 L308.39 249.6 L308.62 250.1 L308.84 250.59 L309.07 251.07 L309.31 251.54 L309.55 251.99 L309.79 252.44 L310.03 252.87 L310.28 253.3 L310.53 253.72 L310.79 254.12 L311.05 254.52 L311.31 254.91 L311.57 255.28 L311.84 255.65 L312.12 256.02 L312.39 256.37 L312.67 256.71 L312.95 257.05 L313.24 257.38 L313.53 257.7 L313.82 258.02 L314.12 258.33 L314.42 258.63 L314.73 258.92 L315.03 259.21 L315.34 259.49 L315.66 259.77 L315.98 260.04 L316.3 260.3 L316.63 260.56 L316.96 260.81 L317.29 261.06 L317.62 261.3 L317.96 261.54 L318.31 261.77 L318.66 261.99 L319.01 262.21 L319.36 262.43 L319.72 262.64 L320.08 262.85 L320.45 263.05 L320.82 263.25 L321.19 263.45 L321.57 263.64 L321.95 263.83 L322.33 264.01 L322.72 264.19 L323.11 264.36 L323.51 264.54 L323.91 264.7 L324.31 264.87 L324.71 265.03 L325.12 265.19 L325.54 265.35 L325.96 265.5 L326.38 265.65 L326.8 265.8 L327.23 265.94 L327.66 266.08 L328.1 266.22 L328.54 266.35 L328.99 266.49 L329.43 266.62 L329.89 266.75 L330.34 266.87 L330.8 266.99 L331.26 267.12 L331.73 267.23 L332.2 267.35 L332.68 267.47 L333.15 267.58 L333.64 267.69 L334.12 267.8 L334.61 267.9 L335.11 268.01 L335.6 268.11 L336.11 268.21 L336.61 268.31 L337.12 268.41 L337.63 268.5 L338.15 268.59 L338.67 268.69 L339.2 268.78 L339.73 268.87 L340.26 268.95 L340.8 269.04 L341.34 269.12 L341.88 269.21 L342.43 269.29 L342.98 269.37 L343.54 269.45 L344.1 269.53 L344.66 269.6 L345.23 269.68 L345.8 269.75 L346.38 269.82 L346.96 269.89 L347.54 269.97 L348.13 270.03 L348.72 270.1 L349.32 270.17 L349.92 270.23 L350.52 270.3 L351.13 270.36 L351.74 270.43 L352.36 270.49 L352.98 270.55 L353.6 270.61 L354.23 270.67 L354.86 270.73 L355.5 270.78 L356.14 270.84 L356.78 270.89 L357.43 270.95 L358.08 271 L358.74 271.06 L359.4 271.11 L360.06 271.16 L360.73 271.21 L361.4 271.26 L362.08 271.31 L362.76 271.36 L363.44 271.4 L364.13 271.45 L364.83 271.5 L365.52 271.54 L366.22 271.59 L366.93 271.63 L367.64 271.68 L368.35 271.72 L369.07 271.76 L369.79 271.8 L370.51 271.85 L371.24 271.89 L371.98 271.93 L372.72 271.97 L373.46 272 L374.2 272.04 L374.95 272.08 L375.71 272.12 L376.47 272.16 L377.23 272.19 L378 272.23 L378.77 272.26 L379.54 272.3 L380.32 272.33 L381.11 272.37 L381.89 272.4 L382.69 272.43 L383.48 272.47 L384.28 272.5 L385.09 272.53 L385.9 272.56 L386.71 272.59 L387.53 272.62 L388.35 272.65 L389.17 272.68 L390 272.71 L390.84 272.74 L391.67 272.77 L392.52 272.8 L393.36 272.83 L394.21 272.86 L395.07 272.88 L395.93 272.91 L396.79 272.94 L397.66 272.96 L398.53 272.99 L399.41 273.02 L400.29 273.04 L401.17 273.07 L402.06 273.09 L402.95 273.11 L403.85 273.14 L404.75 273.16 L405.66 273.19 L406.57 273.21 L407.48 273.23 L408.4 273.26 L409.33 273.28 L410.25 273.3 L411.18 273.32 L412.12 273.34 L413.06 273.37 L414.01 273.39 L414.95 273.41 L415.91 273.43 L416.86 273.45 L417.83 273.47 L418.79 273.49 L419.76 273.51 L420.74 273.53 L421.72 273.55 L422.7 273.57 L423.69 273.59 L424.68 273.61 L425.68 273.62 L426.68 273.64 L427.68 273.66 L428.69 273.68 L429.71 273.7 L430.72 273.71 L431.75 273.73 L432.77 273.75 L433.8 273.76 L434.84 273.78 L435.88 273.8 L436.92 273.81 L437.97 273.83 L439.03 273.85 L440.08 273.86 L441.15 273.88 L442.21 273.89 L443.28 273.91 L444.36 273.92 L445.44 273.94 L446.52 273.95 L447.61 273.97 L448.7 273.98 L449.8 274 L450.9 274.01" fill="none" stroke="#000" stroke-width="1.2" stroke-linejoin="round" />
<circle cx="300.4" cy="191.2" r="2.14" fill="#000"/>
<circle cx="302.75" cy="222.58" r="2.14" fill="#000"/>
<circle cx="305.1" cy="235.3" r="2.14" fill="#000"/>
<circle cx="309.81" cy="253.95" r="2.14" fill="#000"/>
<circle cx="319.21" cy="264.13" r="2.14" fill="#000"/>
<circle cx="338.02" cy="267.52" r="2.14" fill="#000"/>
<circle cx="375.65" cy="270.06" r="2.14" fill="#000"/>
<circle cx="450.9" cy="275.15" r="2.14" fill="#000"/>
<path d="M300.4 191.2 L302.75 197.14 L305.1 202.22 L309.81 209.86 L319.21 222.15 L338.02 236.99 L375.65 249.71 L450.9 273.46" fill="none" stroke="#000" stroke-width="1.2" stroke-linejoin="round" />
<path d="M300.4 194.1L302.93 189.27L297.87 189.27Z" fill="#000" />
<path d="M302.75 200.03L305.28 195.2L300.22 195.2Z" fill="#000" />
<path d="M305.1 205.12L307.63 200.29L302.57 200.29Z" fill="#000" />
<path d="M309.81 212.75L312.34 207.92L307.28 207.92Z" fill="#000" />
<path d="M319.21 225.05L321.74 220.22L316.68 220.22Z" fill="#000" />
<path d="M338.02 239.89L340.55 235.06L335.5 235.06Z" fill="#000" />
<path d="M375.65 252.61L378.18 247.78L373.12 247.78Z" fill="#000" />
<path d="M450.9 276.35L453.43 271.52L448.37 271.52Z" fill="#000" />
<path d="M300.4 191.2 L302.75 195.44 L305.1 199.68 L309.81 203.07 L319.21 210.7 L338.02 217.49 L375.65 230.21 L450.9 273.46" fill="none" stroke="#000" stroke-width="1.2" stroke-linejoin="round" />
<path d="M300.4 188.3L302.93 193.13L297.87 193.13Z" fill="#000" />
<path d="M302.75 192.54L305.28 197.37L300.22 197.37Z" fill="#000" />
<path d="M305.1 196.78L307.63 201.61L302.57 201.61Z" fill="#000" />
<path d="M309.81 200.17L312.34 205L307.28 205Z" fill="#000" />
<path d="M319.21 207.81L321.74 212.64L316.68 212.64Z" fill="#000" />
<path d="M338.02 214.59L340.55 219.42L335.5 219.42Z" fill="#000" />
<path d="M375.65 227.31L378.18 232.14L373.12 232.14Z" fill="#000" />
<path d="M450.9 270.56L453.43 275.39L448.37 275.39Z" fill="#000" />
<path d="M300.4 191.2 L302.75 186.96 L305.1 191.2 L309.81 192.05 L319.21 191.2 L338.02 189.5 L375.65 187.38 L450.9 190.35" fill="none" stroke="#000" stroke-width="1.2" stroke-linejoin="round" />
<rect x="298.17" y="188.97" width="4.46" height="4.46" fill="#000" />
<rect x="300.52" y="184.73" width="4.46" height="4.46" fill="#000" />
<rect x="302.87" y="188.97" width="4.46" height="4.46" fill="#000" />
<rect x="307.58" y="189.82" width="4.46" height="4.46" fill="#000" />
<rect x="316.98" y="188.97" width="4.46" height="4.46" fill="#000" />
<rect x="335.79" y="187.27" width="4.46" height="4.46" fill="#000" />
<rect x="373.42" y="185.15" width="4.46" height="4.46" fill="#000" />
<rect x="448.67" y="188.12" width="4.46" height="4.46" fill="#000" />
<path d="M300.4 188.3L302.81 193.13L297.98 193.13Z" fill="#fff" stroke="#000" stroke-width="1" />
<path d="M302.75 189.15L305.17 193.98L300.34 193.98Z" fill="#fff" stroke="#000" stroke-width="1" />
<path d="M305.1 190L307.52 194.83L302.69 194.83Z" fill="#fff" stroke="#000" stroke-width="1" />
<path d="M309.81 190L312.22 194.83L307.39 194.83Z" fill="#fff" stroke="#000" stroke-width="1" />
<path d="M319.21 190L321.63 194.83L316.8 194.83Z" fill="#fff" stroke="#000" stroke-width="1" />
<path d="M338.02 190L340.44 194.83L335.61 194.83Z" fill="#fff" stroke="#000" stroke-width="1" />
<path d="M375.65 189.15L378.06 193.98L373.23 193.98Z" fill="#fff" stroke="#000" stroke-width="1" />
<path d="M450.9 187.45L453.31 192.28L448.48 192.28Z" fill="#fff" stroke="#000" stroke-width="1" />
<path d="M300.4 192.47 L450.9 190.35" fill="none" stroke="#000" stroke-width="1" stroke-linejoin="round" />
<rect x="298.44" y="189.24" width="3.91" height="3.91" fill="#fff" stroke="#000" stroke-width="1.1" />
<rect x="300.8" y="190.94" width="3.91" height="3.91" fill="#fff" stroke="#000" stroke-width="1.1" />
<rect x="303.15" y="193.91" width="3.91" height="3.91" fill="#fff" stroke="#000" stroke-width="1.1" />
<rect x="307.85" y="194.33" width="3.91" height="3.91" fill="#fff" stroke="#000" stroke-width="1.1" />
<rect x="317.26" y="194.33" width="3.91" height="3.91" fill="#fff" stroke="#000" stroke-width="1.1" />
<rect x="336.07" y="195.18" width="3.91" height="3.91" fill="#fff" stroke="#000" stroke-width="1.1" />
<rect x="373.69" y="197.3" width="3.91" height="3.91" fill="#fff" stroke="#000" stroke-width="1.1" />
<rect x="448.94" y="213.84" width="3.91" height="3.91" fill="#fff" stroke="#000" stroke-width="1.1" />
<path d="M300.4 193.74 L450.9 215.79" fill="none" stroke="#000" stroke-width="1" stroke-linejoin="round" />
<line x1="460.8" y1="202" x2="471" y2="202" stroke="#000" stroke-width="1.1" />
<circle cx="465.9" cy="202" r="2.04" fill="#000"/>
<text x="478" y="204.9" font-size="8.1" stroke="#000" stroke-width="0.12">Desmolaris</text>
<line x1="460.8" y1="213.74" x2="471" y2="213.74" stroke="#000" stroke-width="1.1" />
<rect x="463.81" y="211.65" width="4.17" height="4.17" fill="#000" />
<text x="478" y="216.64" font-size="8.1" stroke="#000" stroke-width="0.12">R32L</text>
<line x1="460.8" y1="225.48" x2="471" y2="225.48" stroke="#000" stroke-width="1.1" />
<path d="M465.9 222.77L468.27 227.29L463.54 227.29Z" fill="#000" />
<text x="478" y="228.38" font-size="8.1" stroke="#000" stroke-width="0.12">K1K2</text>
<line x1="460.8" y1="237.22" x2="471" y2="237.22" stroke="#000" stroke-width="1.1" />
<path d="M465.9 234.51L468.16 239.03L463.64 239.03Z" fill="#fff" stroke="#000" stroke-width="1" />
<text x="478" y="240.12" font-size="8.1" stroke="#000" stroke-width="0.12">K2Short</text>
<line x1="460.8" y1="248.96" x2="471" y2="248.96" stroke="#000" stroke-width="1.1" />
<path d="M465.9 251.67L468.27 247.15L463.54 247.15Z" fill="#000" />
<text x="478" y="251.86" font-size="8.1" stroke="#000" stroke-width="0.12">K1</text>
<line x1="460.8" y1="260.7" x2="471" y2="260.7" stroke="#000" stroke-width="1.1" />
<rect x="464.07" y="258.87" width="3.65" height="3.65" fill="#fff" stroke="#000" stroke-width="1.1" />
<text x="478" y="263.6" font-size="8.1" stroke="#000" stroke-width="0.12">K2Long</text>
<text x="2.5" y="324.2" font-size="16" font-weight="bold" stroke="#000" stroke-width="0.12">E</text>
<line x1="43.3" y1="341.3" x2="43.3" y2="442.5" stroke="#000" stroke-width="1.1" />
<line x1="40.3" y1="442.5" x2="43.3" y2="442.5" stroke="#000" stroke-width="1.1" />
<text x="39.3" y="445.03" font-size="7.9" font-weight="bold" text-anchor="end" stroke="#000" stroke-width="0.12">0</text>
<line x1="40.3" y1="417.2" x2="43.3" y2="417.2" stroke="#000" stroke-width="1.1" />
<text x="39.3" y="419.73" font-size="7.9" font-weight="bold" text-anchor="end" stroke="#000" stroke-width="0.12">2</text>
<line x1="40.3" y1="391.9" x2="43.3" y2="391.9" stroke="#000" stroke-width="1.1" />
<text x="39.3" y="394.43" font-size="7.9" font-weight="bold" text-anchor="end" stroke="#000" stroke-width="0.12">4</text>
<line x1="40.3" y1="366.6" x2="43.3" y2="366.6" stroke="#000" stroke-width="1.1" />
<text x="39.3" y="369.13" font-size="7.9" font-weight="bold" text-anchor="end" stroke="#000" stroke-width="0.12">6</text>
<line x1="40.3" y1="341.3" x2="43.3" y2="341.3" stroke="#000" stroke-width="1.1" />
<text x="39.3" y="343.83" font-size="7.9" font-weight="bold" text-anchor="end" stroke="#000" stroke-width="0.12">8</text>
<line x1="43.3" y1="442.5" x2="195.4" y2="442.5" stroke="#000" stroke-width="1.1" />
<line x1="55.8" y1="442.5" x2="55.8" y2="445.5" stroke="#000" stroke-width="1.1" />
<text x="55.8" y="453.56" font-size="7.7" font-weight="bold" text-anchor="middle" stroke="#000" stroke-width="0.12">0</text>
<line x1="80.95" y1="442.5" x2="80.95" y2="445.5" stroke="#000" stroke-width="1.1" />
<text x="80.95" y="453.56" font-size="7.7" font-weight="bold" text-anchor="middle" stroke="#000" stroke-width="0.12">10</text>
<line x1="106.1" y1="442.5" x2="106.1" y2="445.5" stroke="#000" stroke-width="1.1" />
<text x="106.1" y="453.56" font-size="7.7" font-weight="bold" text-anchor="middle" stroke="#000" stroke-width="0.12">30</text>
<line x1="131.25" y1="442.5" x2="131.25" y2="445.5" stroke="#000" stroke-width="1.1" />
<text x="131.25" y="453.56" font-size="7.7" font-weight="bold" text-anchor="middle" stroke="#000" stroke-width="0.12">100</text>
<line x1="156.4" y1="442.5" x2="156.4" y2="445.5" stroke="#000" stroke-width="1.1" />
<text x="156.4" y="453.56" font-size="7.7" font-weight="bold" text-anchor="middle" stroke="#000" stroke-width="0.12">300</text>
<line x1="181.55" y1="442.5" x2="181.55" y2="445.5" stroke="#000" stroke-width="1.1" />
<text x="119.5" y="464.56" font-size="8" font-weight="bold" text-anchor="middle" stroke="#000" stroke-width="0.12">Desmolaris (nM)</text>
<text x="30.2" y="391" font-size="8.2" font-weight="bold" text-anchor="middle" stroke="#000" stroke-width="0.12" transform="rotate(-90 30.2 391)">Clotting Time (fold Increase)</text>
<text x="88.3" y="348.91" font-size="9.8" stroke="#000" stroke-width="0.12">PT</text>
<line x1="156.4" y1="393.8" x2="156.4" y2="408.98" stroke="#000" stroke-width="1.1" />
<line x1="154.2" y1="393.8" x2="158.6" y2="393.8" stroke="#000" stroke-width="1.1" />
<line x1="154.2" y1="408.98" x2="158.6" y2="408.98" stroke="#000" stroke-width="1.1" />
<line x1="181.55" y1="351.42" x2="181.55" y2="355.85" stroke="#000" stroke-width="1.1" />
<line x1="179.65" y1="351.42" x2="183.45" y2="351.42" stroke="#000" stroke-width="1.1" />
<line x1="179.65" y1="355.85" x2="183.45" y2="355.85" stroke="#000" stroke-width="1.1" />
<path d="M55.8 429.85 L80.95 430.74 L106.1 427.32 L131.25 422.64 L156.4 401.64 L181.55 353.7" fill="none" stroke="#000" stroke-width="1.2" stroke-linejoin="round" />
<circle cx="55.8" cy="429.85" r="2.14" fill="#000"/>
<circle cx="80.95" cy="430.74" r="2.14" fill="#000"/>
<circle cx="106.1" cy="427.32" r="2.14" fill="#000"/>
<circle cx="131.25" cy="422.64" r="2.14" fill="#000"/>
<circle cx="156.4" cy="401.64" r="2.14" fill="#000"/>
<circle cx="181.55" cy="353.7" r="2.14" fill="#000"/>
<path d="M55.8 429.85 L80.95 430.48 L106.1 429.22 L131.25 427.32 L156.4 425.17 L181.55 416.95" fill="none" stroke="#000" stroke-width="1.2" stroke-linejoin="round" />
<rect x="53.57" y="427.62" width="4.46" height="4.46" fill="#000" />
<rect x="78.72" y="428.25" width="4.46" height="4.46" fill="#000" />
<rect x="103.87" y="426.99" width="4.46" height="4.46" fill="#000" />
<rect x="129.02" y="425.09" width="4.46" height="4.46" fill="#000" />
<rect x="154.17" y="422.94" width="4.46" height="4.46" fill="#000" />
<rect x="179.32" y="414.72" width="4.46" height="4.46" fill="#000" />
<path d="M55.8 429.85 L80.95 430.48 L106.1 429.85 L131.25 428.96 L156.4 430.48 L181.55 430.74" fill="none" stroke="#000" stroke-width="1.2" stroke-linejoin="round" />
<path d="M55.8 427.58L57.78 431.36L53.82 431.36Z" fill="#000" />
<path d="M80.95 428.21L82.93 431.99L78.97 431.99Z" fill="#000" />
<path d="M106.1 427.58L108.08 431.36L104.12 431.36Z" fill="#000" />
<path d="M131.25 426.7L133.23 430.48L129.27 430.48Z" fill="#000" />
<path d="M156.4 428.21L158.38 431.99L154.42 431.99Z" fill="#000" />
<path d="M181.55 428.47L183.53 432.25L179.57 432.25Z" fill="#000" />
<line x1="72" y1="364.8" x2="82.2" y2="364.8" stroke="#000" stroke-width="1.1" />
<circle cx="77.1" cy="364.8" r="2.04" fill="#000"/>
<text x="88.6" y="367.7" font-size="8.1" stroke="#000" stroke-width="0.12">Desmolaris</text>
<line x1="72" y1="376.7" x2="82.2" y2="376.7" stroke="#000" stroke-width="1.1" />
<rect x="75.01" y="374.61" width="4.17" height="4.17" fill="#000" />
<text x="88.6" y="379.6" font-size="8.1" stroke="#000" stroke-width="0.12">K1K2</text>
<line x1="72" y1="388.6" x2="82.2" y2="388.6" stroke="#000" stroke-width="1.1" />
<path d="M77.1 385.89L79.46 390.41L74.73 390.41Z" fill="#000" />
<text x="88.6" y="391.5" font-size="8.1" stroke="#000" stroke-width="0.12">K1</text>
<text x="269.3" y="327" font-size="16" font-weight="bold" stroke="#000" stroke-width="0.12">F</text>
<line x1="294.6" y1="340.4" x2="294.6" y2="443.9" stroke="#000" stroke-width="1.1" />
<line x1="291.6" y1="443.9" x2="294.6" y2="443.9" stroke="#000" stroke-width="1.1" />
<text x="290.6" y="446.43" font-size="7.9" font-weight="bold" text-anchor="end" stroke="#000" stroke-width="0.12">0</text>
<line x1="291.6" y1="423.2" x2="294.6" y2="423.2" stroke="#000" stroke-width="1.1" />
<text x="290.6" y="425.73" font-size="7.9" font-weight="bold" text-anchor="end" stroke="#000" stroke-width="0.12">2</text>
<line x1="291.6" y1="402.5" x2="294.6" y2="402.5" stroke="#000" stroke-width="1.1" />
<text x="290.6" y="405.03" font-size="7.9" font-weight="bold" text-anchor="end" stroke="#000" stroke-width="0.12">4</text>
<line x1="291.6" y1="381.8" x2="294.6" y2="381.8" stroke="#000" stroke-width="1.1" />
<text x="290.6" y="384.33" font-size="7.9" font-weight="bold" text-anchor="end" stroke="#000" stroke-width="0.12">6</text>
<line x1="291.6" y1="361.1" x2="294.6" y2="361.1" stroke="#000" stroke-width="1.1" />
<text x="290.6" y="363.63" font-size="7.9" font-weight="bold" text-anchor="end" stroke="#000" stroke-width="0.12">8</text>
<line x1="291.6" y1="340.4" x2="294.6" y2="340.4" stroke="#000" stroke-width="1.1" />
<text x="290.6" y="342.93" font-size="7.9" font-weight="bold" text-anchor="end" stroke="#000" stroke-width="0.12">10</text>
<line x1="294.6" y1="443.9" x2="451.2" y2="443.9" stroke="#000" stroke-width="1.1" />
<line x1="311.2" y1="443.9" x2="311.2" y2="446.9" stroke="#000" stroke-width="1.1" />
<text x="311.2" y="455.46" font-size="7.7" font-weight="bold" text-anchor="middle" stroke="#000" stroke-width="0.12">0</text>
<line x1="342.18" y1="443.9" x2="342.18" y2="446.9" stroke="#000" stroke-width="1.1" />
<text x="342.18" y="455.46" font-size="7.7" font-weight="bold" text-anchor="middle" stroke="#000" stroke-width="0.12">10</text>
<line x1="373.16" y1="443.9" x2="373.16" y2="446.9" stroke="#000" stroke-width="1.1" />
<text x="373.16" y="455.46" font-size="7.7" font-weight="bold" text-anchor="middle" stroke="#000" stroke-width="0.12">30</text>
<line x1="404.14" y1="443.9" x2="404.14" y2="446.9" stroke="#000" stroke-width="1.1" />
<text x="404.14" y="455.46" font-size="7.7" font-weight="bold" text-anchor="middle" stroke="#000" stroke-width="0.12">100</text>
<line x1="435.12" y1="443.9" x2="435.12" y2="446.9" stroke="#000" stroke-width="1.1" />
<text x="435.12" y="455.46" font-size="7.7" font-weight="bold" text-anchor="middle" stroke="#000" stroke-width="0.12">300</text>
<text x="373" y="466.36" font-size="8" font-weight="bold" text-anchor="middle" stroke="#000" stroke-width="0.12">Desmolaris (nM)</text>
<text x="277.6" y="392.5" font-size="8.2" font-weight="bold" text-anchor="middle" stroke="#000" stroke-width="0.12" transform="rotate(-90 277.6 392.5)">Clotting Time (fold Increase)</text>
<text x="346.5" y="347.78" font-size="10" stroke="#000" stroke-width="0.12">aPTT</text>
<line x1="404.14" y1="402.5" x2="404.14" y2="411.3" stroke="#000" stroke-width="1.1" />
<line x1="401.94" y1="402.5" x2="406.34" y2="402.5" stroke="#000" stroke-width="1.1" />
<line x1="401.94" y1="411.3" x2="406.34" y2="411.3" stroke="#000" stroke-width="1.1" />
<line x1="404.14" y1="392.15" x2="404.14" y2="395.77" stroke="#000" stroke-width="1.1" />
<line x1="402.14" y1="392.15" x2="406.14" y2="392.15" stroke="#000" stroke-width="1.1" />
<line x1="402.14" y1="395.77" x2="406.14" y2="395.77" stroke="#000" stroke-width="1.1" />
<path d="M311.2 433.55 L342.18 431.89 L373.16 426.82 L404.14 407.16 L435.12 356.55" fill="none" stroke="#000" stroke-width="1.2" stroke-linejoin="round" />
<circle cx="311.2" cy="433.55" r="2.14" fill="#000"/>
<circle cx="342.18" cy="431.89" r="2.14" fill="#000"/>
<circle cx="373.16" cy="426.82" r="2.14" fill="#000"/>
<circle cx="404.14" cy="407.16" r="2.14" fill="#000"/>
<circle cx="435.12" cy="356.55" r="2.14" fill="#000"/>
<path d="M311.2 433.55 L342.18 429.2 L373.16 416.99 L404.14 393.91 L435.12 356.55" fill="none" stroke="#000" stroke-width="1.2" stroke-linejoin="round" />
<rect x="308.97" y="431.32" width="4.46" height="4.46" fill="#000" />
<rect x="339.95" y="426.97" width="4.46" height="4.46" fill="#000" />
<rect x="370.93" y="414.76" width="4.46" height="4.46" fill="#000" />
<rect x="401.91" y="391.68" width="4.46" height="4.46" fill="#000" />
<rect x="432.89" y="354.31" width="4.46" height="4.46" fill="#000" />
<path d="M311.2 433.55 L342.18 432.51 L373.16 432.62 L404.14 429.62 L435.12 425.48" fill="none" stroke="#000" stroke-width="1.2" stroke-linejoin="round" />
<path d="M311.2 431.28L313.18 435.06L309.22 435.06Z" fill="#000" />
<path d="M342.18 430.25L344.16 434.03L340.2 434.03Z" fill="#000" />
<path d="M373.16 430.35L375.14 434.13L371.18 434.13Z" fill="#000" />
<path d="M404.14 427.35L406.12 431.13L402.16 431.13Z" fill="#000" />
<path d="M435.12 423.21L437.1 426.99L433.14 426.99Z" fill="#000" />
<line x1="327.3" y1="361.5" x2="337.5" y2="361.5" stroke="#000" stroke-width="1.1" />
<circle cx="332.4" cy="361.5" r="2.04" fill="#000"/>
<text x="344.2" y="364.4" font-size="8.1" stroke="#000" stroke-width="0.12">Desmolaris</text>
<line x1="327.3" y1="373.05" x2="337.5" y2="373.05" stroke="#000" stroke-width="1.1" />
<rect x="330.31" y="370.96" width="4.17" height="4.17" fill="#000" />
<text x="344.2" y="375.95" font-size="8.1" stroke="#000" stroke-width="0.12">K1K2</text>
<line x1="327.3" y1="384.6" x2="337.5" y2="384.6" stroke="#000" stroke-width="1.1" />
<path d="M332.4 381.89L334.77 386.41L330.04 386.41Z" fill="#000" />
<text x="344.2" y="387.5" font-size="8.1" stroke="#000" stroke-width="0.12">K1</text>
<text x="1.3" y="481.5" font-size="16" font-weight="bold" stroke="#000" stroke-width="0.12">G</text>
<line x1="42.4" y1="494.82" x2="42.4" y2="597.3" stroke="#000" stroke-width="1.1" />
<line x1="39.4" y1="597.3" x2="42.4" y2="597.3" stroke="#000" stroke-width="1.1" />
<text x="37.9" y="599.46" font-size="7.7" font-weight="bold" text-anchor="end" stroke="#000" stroke-width="0.12">0.0</text>
<line x1="39.4" y1="580.22" x2="42.4" y2="580.22" stroke="#000" stroke-width="1.1" />
<text x="37.9" y="582.38" font-size="7.7" font-weight="bold" text-anchor="end" stroke="#000" stroke-width="0.12">0.2</text>
<line x1="39.4" y1="563.14" x2="42.4" y2="563.14" stroke="#000" stroke-width="1.1" />
<text x="37.9" y="565.3" font-size="7.7" font-weight="bold" text-anchor="end" stroke="#000" stroke-width="0.12">0.4</text>
<line x1="39.4" y1="546.06" x2="42.4" y2="546.06" stroke="#000" stroke-width="1.1" />
<text x="37.9" y="548.22" font-size="7.7" font-weight="bold" text-anchor="end" stroke="#000" stroke-width="0.12">0.6</text>
<line x1="39.4" y1="528.98" x2="42.4" y2="528.98" stroke="#000" stroke-width="1.1" />
<text x="37.9" y="531.14" font-size="7.7" font-weight="bold" text-anchor="end" stroke="#000" stroke-width="0.12">0.8</text>
<line x1="39.4" y1="511.9" x2="42.4" y2="511.9" stroke="#000" stroke-width="1.1" />
<text x="37.9" y="514.06" font-size="7.7" font-weight="bold" text-anchor="end" stroke="#000" stroke-width="0.12">1.0</text>
<line x1="39.4" y1="494.82" x2="42.4" y2="494.82" stroke="#000" stroke-width="1.1" />
<text x="37.9" y="496.98" font-size="7.7" font-weight="bold" text-anchor="end" stroke="#000" stroke-width="0.12">1.2</text>
<line x1="42.4" y1="597.3" x2="197" y2="597.3" stroke="#000" stroke-width="1.1" />
<line x1="44.2" y1="597.3" x2="44.2" y2="600.3" stroke="#000" stroke-width="1.1" />
<text x="44.2" y="608.62" font-size="7.6" font-weight="bold" text-anchor="middle" stroke="#000" stroke-width="0.12">0</text>
<line x1="82.38" y1="597.3" x2="82.38" y2="600.3" stroke="#000" stroke-width="1.1" />
<text x="82.38" y="608.62" font-size="7.6" font-weight="bold" text-anchor="middle" stroke="#000" stroke-width="0.12">25</text>
<line x1="120.55" y1="597.3" x2="120.55" y2="600.3" stroke="#000" stroke-width="1.1" />
<text x="120.55" y="608.62" font-size="7.6" font-weight="bold" text-anchor="middle" stroke="#000" stroke-width="0.12">50</text>
<line x1="158.72" y1="597.3" x2="158.72" y2="600.3" stroke="#000" stroke-width="1.1" />
<text x="158.72" y="608.62" font-size="7.6" font-weight="bold" text-anchor="middle" stroke="#000" stroke-width="0.12">75</text>
<line x1="196.9" y1="597.3" x2="196.9" y2="600.3" stroke="#000" stroke-width="1.1" />
<text x="196.9" y="608.62" font-size="7.6" font-weight="bold" text-anchor="middle" stroke="#000" stroke-width="0.12">100</text>
<text x="61.6" y="511.38" font-size="10" stroke="#000" stroke-width="0.12">FXa</text>
<text x="120" y="620.26" font-size="8" font-weight="bold" text-anchor="middle" stroke="#000" stroke-width="0.12">Desmolaris (nM)</text>
<text x="22.8" y="545.9" font-size="10" font-weight="bold" text-anchor="middle" stroke="#000" stroke-width="0.12" transform="rotate(-90 22.8 545.9)">Vs/Vo</text>
<path d="M44.2 511.9 L44.2 511.9 L44.2 511.91 L44.21 511.92 L44.21 511.94 L44.22 511.96 L44.23 511.99 L44.24 512.03 L44.25 512.07 L44.27 512.12 L44.29 512.17 L44.31 512.24 L44.33 512.31 L44.35 512.39 L44.38 512.47 L44.41 512.56 L44.44 512.67 L44.48 512.77 L44.51 512.89 L44.55 513.01 L44.59 513.14 L44.64 513.28 L44.69 513.43 L44.74 513.58 L44.79 513.74 L44.85 513.91 L44.9 514.09 L44.96 514.27 L45.03 514.47 L45.09 514.67 L45.16 514.87 L45.24 515.09 L45.31 515.31 L45.39 515.54 L45.47 515.77 L45.55 516.01 L45.64 516.26 L45.73 516.52 L45.82 516.78 L45.92 517.05 L46.01 517.33 L46.12 517.61 L46.22 517.9 L46.33 518.2 L46.44 518.5 L46.55 518.81 L46.67 519.12 L46.79 519.44 L46.91 519.76 L47.04 520.09 L47.16 520.43 L47.3 520.77 L47.43 521.11 L47.57 521.46 L47.71 521.82 L47.86 522.18 L48 522.54 L48.15 522.91 L48.31 523.28 L48.47 523.66 L48.63 524.04 L48.79 524.42 L48.96 524.81 L49.13 525.2 L49.3 525.59 L49.48 525.99 L49.66 526.39 L49.84 526.79 L50.03 527.2 L50.22 527.6 L50.41 528.01 L50.61 528.42 L50.81 528.84 L51.02 529.25 L51.22 529.67 L51.43 530.09 L51.65 530.51 L51.86 530.93 L52.08 531.36 L52.31 531.78 L52.54 532.21 L52.77 532.63 L53 533.06 L53.24 533.49 L53.48 533.91 L53.73 534.34 L53.97 534.77 L54.23 535.2 L54.48 535.63 L54.74 536.06 L55 536.48 L55.27 536.91 L55.54 537.34 L55.81 537.77 L56.09 538.19 L56.37 538.62 L56.65 539.04 L56.94 539.47 L57.23 539.89 L57.52 540.31 L57.82 540.73 L58.12 541.15 L58.43 541.57 L58.73 541.99 L59.05 542.4 L59.36 542.82 L59.68 543.23 L60.01 543.64 L60.33 544.05 L60.66 544.46 L61 544.86 L61.33 545.27 L61.68 545.67 L62.02 546.07 L62.37 546.47 L62.72 546.86 L63.08 547.26 L63.44 547.65 L63.8 548.04 L64.17 548.42 L64.54 548.81 L64.92 549.19 L65.29 549.57 L65.68 549.95 L66.06 550.33 L66.45 550.7 L66.85 551.07 L67.24 551.44 L67.64 551.81 L68.05 552.17 L68.46 552.54 L68.87 552.89 L69.29 553.25 L69.71 553.61 L70.13 553.96 L70.56 554.31 L70.99 554.65 L71.42 555 L71.86 555.34 L72.31 555.68 L72.75 556.01 L73.2 556.35 L73.66 556.68 L74.12 557.01 L74.58 557.33 L75.04 557.66 L75.51 557.98 L75.99 558.3 L76.47 558.61 L76.95 558.93 L77.43 559.24 L77.92 559.55 L78.42 559.85 L78.91 560.15 L79.41 560.45 L79.92 560.75 L80.43 561.05 L80.94 561.34 L81.46 561.63 L81.98 561.92 L82.5 562.2 L83.03 562.49 L83.56 562.77 L84.1 563.05 L84.64 563.32 L85.19 563.6 L85.73 563.87 L86.29 564.13 L86.84 564.4 L87.4 564.66 L87.97 564.93 L88.54 565.18 L89.11 565.44 L89.69 565.7 L90.27 565.95 L90.85 566.2 L91.44 566.44 L92.03 566.69 L92.63 566.93 L93.23 567.17 L93.83 567.41 L94.44 567.65 L95.05 567.88 L95.67 568.11 L96.29 568.34 L96.92 568.57 L97.55 568.8 L98.18 569.02 L98.82 569.24 L99.46 569.46 L100.1 569.68 L100.75 569.9 L101.41 570.11 L102.06 570.32 L102.72 570.53 L103.39 570.74 L104.06 570.94 L104.73 571.15 L105.41 571.35 L106.09 571.55 L106.78 571.75 L107.47 571.94 L108.17 572.14 L108.86 572.33 L109.57 572.52 L110.27 572.71 L110.99 572.89 L111.7 573.08 L112.42 573.26 L113.14 573.45 L113.87 573.63 L114.6 573.8 L115.34 573.98 L116.08 574.16 L116.82 574.33 L117.57 574.5 L118.33 574.67 L119.08 574.84 L119.84 575.01 L120.61 575.17 L121.38 575.34 L122.15 575.5 L122.93 575.66 L123.71 575.82 L124.5 575.98 L125.29 576.13 L126.09 576.29 L126.89 576.44 L127.69 576.59 L128.5 576.74 L129.31 576.89 L130.12 577.04 L130.95 577.19 L131.77 577.33 L132.6 577.48 L133.43 577.62 L134.27 577.76 L135.11 577.9 L135.96 578.04 L136.81 578.18 L137.66 578.31 L138.52 578.45 L139.38 578.58 L140.25 578.71 L141.12 578.84 L142 578.97 L142.88 579.1 L143.76 579.23 L144.65 579.36 L145.55 579.48 L146.44 579.6 L147.35 579.73 L148.25 579.85 L149.16 579.97 L150.08 580.09 L151 580.21 L151.92 580.33 L152.85 580.44 L153.78 580.56 L154.72 580.67 L155.66 580.78 L156.6 580.9 L157.55 581.01 L158.51 581.12 L159.47 581.23 L160.43 581.34 L161.4 581.44 L162.37 581.55 L163.34 581.65 L164.32 581.76 L165.31 581.86 L166.3 581.97 L167.29 582.07 L168.29 582.17 L169.29 582.27 L170.3 582.37 L171.31 582.46 L172.32 582.56 L173.34 582.66 L174.37 582.75 L175.4 582.85 L176.43 582.94 L177.47 583.04 L178.51 583.13 L179.55 583.22 L180.61 583.31 L181.66 583.4 L182.72 583.49 L183.78 583.58 L184.85 583.67 L185.93 583.75 L187 583.84 L188.08 583.92 L189.17 584.01 L190.26 584.09 L191.36 584.18 L192.46 584.26 L193.56 584.34 L194.67 584.42 L195.78 584.5 L196.9 584.58" fill="none" stroke="#7a7a7a" stroke-width="1.3" stroke-linejoin="round" />
<path d="M44.2 511.9 L44.2 511.9 L44.2 511.91 L44.21 511.92 L44.21 511.94 L44.22 511.97 L44.23 512 L44.24 512.04 L44.25 512.09 L44.27 512.14 L44.29 512.21 L44.31 512.28 L44.33 512.36 L44.35 512.45 L44.38 512.54 L44.41 512.65 L44.44 512.76 L44.48 512.88 L44.51 513.01 L44.55 513.15 L44.59 513.29 L44.64 513.45 L44.69 513.61 L44.74 513.78 L44.79 513.96 L44.85 514.15 L44.9 514.35 L44.96 514.55 L45.03 514.77 L45.09 514.99 L45.16 515.22 L45.24 515.46 L45.31 515.7 L45.39 515.96 L45.47 516.22 L45.55 516.49 L45.64 516.76 L45.73 517.05 L45.82 517.34 L45.92 517.64 L46.01 517.94 L46.12 518.26 L46.22 518.58 L46.33 518.9 L46.44 519.23 L46.55 519.57 L46.67 519.92 L46.79 520.27 L46.91 520.62 L47.04 520.98 L47.16 521.35 L47.3 521.72 L47.43 522.1 L47.57 522.48 L47.71 522.87 L47.86 523.26 L48 523.66 L48.15 524.06 L48.31 524.46 L48.47 524.87 L48.63 525.28 L48.79 525.7 L48.96 526.12 L49.13 526.54 L49.3 526.97 L49.48 527.39 L49.66 527.82 L49.84 528.26 L50.03 528.69 L50.22 529.13 L50.41 529.57 L50.61 530.01 L50.81 530.45 L51.02 530.9 L51.22 531.34 L51.43 531.79 L51.65 532.24 L51.86 532.69 L52.08 533.14 L52.31 533.59 L52.54 534.04 L52.77 534.49 L53 534.94 L53.24 535.39 L53.48 535.84 L53.73 536.29 L53.97 536.75 L54.23 537.2 L54.48 537.65 L54.74 538.1 L55 538.54 L55.27 538.99 L55.54 539.44 L55.81 539.88 L56.09 540.33 L56.37 540.77 L56.65 541.21 L56.94 541.65 L57.23 542.09 L57.52 542.53 L57.82 542.97 L58.12 543.4 L58.43 543.83 L58.73 544.26 L59.05 544.69 L59.36 545.12 L59.68 545.54 L60.01 545.96 L60.33 546.38 L60.66 546.8 L61 547.22 L61.33 547.63 L61.68 548.04 L62.02 548.45 L62.37 548.85 L62.72 549.26 L63.08 549.66 L63.44 550.06 L63.8 550.45 L64.17 550.84 L64.54 551.23 L64.92 551.62 L65.29 552.01 L65.68 552.39 L66.06 552.77 L66.45 553.15 L66.85 553.52 L67.24 553.89 L67.64 554.26 L68.05 554.62 L68.46 554.99 L68.87 555.35 L69.29 555.7 L69.71 556.06 L70.13 556.41 L70.56 556.76 L70.99 557.1 L71.42 557.45 L71.86 557.79 L72.31 558.12 L72.75 558.46 L73.2 558.79 L73.66 559.12 L74.12 559.44 L74.58 559.77 L75.04 560.09 L75.51 560.4 L75.99 560.72 L76.47 561.03 L76.95 561.34 L77.43 561.64 L77.92 561.95 L78.42 562.25 L78.91 562.55 L79.41 562.84 L79.92 563.13 L80.43 563.42 L80.94 563.71 L81.46 563.99 L81.98 564.28 L82.5 564.55 L83.03 564.83 L83.56 565.1 L84.1 565.38 L84.64 565.64 L85.19 565.91 L85.73 566.17 L86.29 566.43 L86.84 566.69 L87.4 566.95 L87.97 567.2 L88.54 567.45 L89.11 567.7 L89.69 567.95 L90.27 568.19 L90.85 568.43 L91.44 568.67 L92.03 568.91 L92.63 569.14 L93.23 569.37 L93.83 569.6 L94.44 569.83 L95.05 570.06 L95.67 570.28 L96.29 570.5 L96.92 570.72 L97.55 570.94 L98.18 571.15 L98.82 571.36 L99.46 571.57 L100.1 571.78 L100.75 571.99 L101.41 572.19 L102.06 572.4 L102.72 572.6 L103.39 572.79 L104.06 572.99 L104.73 573.18 L105.41 573.38 L106.09 573.57 L106.78 573.75 L107.47 573.94 L108.17 574.13 L108.86 574.31 L109.57 574.49 L110.27 574.67 L110.99 574.85 L111.7 575.02 L112.42 575.2 L113.14 575.37 L113.87 575.54 L114.6 575.71 L115.34 575.88 L116.08 576.04 L116.82 576.21 L117.57 576.37 L118.33 576.53 L119.08 576.69 L119.84 576.85 L120.61 577 L121.38 577.16 L122.15 577.31 L122.93 577.46 L123.71 577.61 L124.5 577.76 L125.29 577.91 L126.09 578.06 L126.89 578.2 L127.69 578.34 L128.5 578.48 L129.31 578.62 L130.12 578.76 L130.95 578.9 L131.77 579.04 L132.6 579.17 L133.43 579.31 L134.27 579.44 L135.11 579.57 L135.96 579.7 L136.81 579.83 L137.66 579.95 L138.52 580.08 L139.38 580.21 L140.25 580.33 L141.12 580.45 L142 580.57 L142.88 580.69 L143.76 580.81 L144.65 580.93 L145.55 581.05 L146.44 581.16 L147.35 581.28 L148.25 581.39 L149.16 581.5 L150.08 581.62 L151 581.73 L151.92 581.83 L152.85 581.94 L153.78 582.05 L154.72 582.16 L155.66 582.26 L156.6 582.37 L157.55 582.47 L158.51 582.57 L159.47 582.67 L160.43 582.77 L161.4 582.87 L162.37 582.97 L163.34 583.07 L164.32 583.17 L165.31 583.26 L166.3 583.36 L167.29 583.45 L168.29 583.55 L169.29 583.64 L170.3 583.73 L171.31 583.82 L172.32 583.91 L173.34 584 L174.37 584.09 L175.4 584.18 L176.43 584.26 L177.47 584.35 L178.51 584.44 L179.55 584.52 L180.61 584.6 L181.66 584.69 L182.72 584.77 L183.78 584.85 L184.85 584.93 L185.93 585.01 L187 585.09 L188.08 585.17 L189.17 585.25 L190.26 585.33 L191.36 585.4 L192.46 585.48 L193.56 585.55 L194.67 585.63 L195.78 585.7 L196.9 585.78" fill="none" stroke="#7a7a7a" stroke-width="1.3" stroke-linejoin="round" />
<path d="M44.2 511.9 L44.2 511.91 L44.2 511.92 L44.21 511.96 L44.21 512.01 L44.22 512.09 L44.23 512.18 L44.24 512.29 L44.25 512.42 L44.27 512.58 L44.29 512.75 L44.31 512.95 L44.33 513.16 L44.35 513.4 L44.38 513.66 L44.41 513.94 L44.44 514.25 L44.48 514.57 L44.51 514.92 L44.55 515.28 L44.59 515.67 L44.64 516.08 L44.69 516.5 L44.74 516.95 L44.79 517.41 L44.85 517.89 L44.9 518.39 L44.96 518.91 L45.03 519.44 L45.09 519.99 L45.16 520.55 L45.24 521.12 L45.31 521.72 L45.39 522.32 L45.47 522.93 L45.55 523.56 L45.64 524.2 L45.73 524.85 L45.82 525.51 L45.92 526.17 L46.01 526.85 L46.12 527.53 L46.22 528.22 L46.33 528.91 L46.44 529.61 L46.55 530.32 L46.67 531.02 L46.79 531.74 L46.91 532.45 L47.04 533.17 L47.16 533.88 L47.3 534.6 L47.43 535.32 L47.57 536.04 L47.71 536.76 L47.86 537.48 L48 538.19 L48.15 538.91 L48.31 539.62 L48.47 540.33 L48.63 541.03 L48.79 541.73 L48.96 542.43 L49.13 543.12 L49.3 543.81 L49.48 544.5 L49.66 545.18 L49.84 545.85 L50.03 546.52 L50.22 547.18 L50.41 547.84 L50.61 548.49 L50.81 549.14 L51.02 549.78 L51.22 550.41 L51.43 551.03 L51.65 551.65 L51.86 552.26 L52.08 552.87 L52.31 553.47 L52.54 554.06 L52.77 554.64 L53 555.22 L53.24 555.79 L53.48 556.35 L53.73 556.9 L53.97 557.45 L54.23 557.99 L54.48 558.52 L54.74 559.05 L55 559.57 L55.27 560.08 L55.54 560.58 L55.81 561.08 L56.09 561.57 L56.37 562.05 L56.65 562.53 L56.94 563 L57.23 563.46 L57.52 563.91 L57.82 564.36 L58.12 564.8 L58.43 565.24 L58.73 565.67 L59.05 566.09 L59.36 566.51 L59.68 566.91 L60.01 567.32 L60.33 567.71 L60.66 568.11 L61 568.49 L61.33 568.87 L61.68 569.24 L62.02 569.61 L62.37 569.97 L62.72 570.33 L63.08 570.68 L63.44 571.02 L63.8 571.36 L64.17 571.7 L64.54 572.02 L64.92 572.35 L65.29 572.67 L65.68 572.98 L66.06 573.29 L66.45 573.59 L66.85 573.89 L67.24 574.19 L67.64 574.48 L68.05 574.76 L68.46 575.04 L68.87 575.32 L69.29 575.59 L69.71 575.86 L70.13 576.12 L70.56 576.38 L70.99 576.64 L71.42 576.89 L71.86 577.13 L72.31 577.38 L72.75 577.62 L73.2 577.85 L73.66 578.09 L74.12 578.32 L74.58 578.54 L75.04 578.76 L75.51 578.98 L75.99 579.2 L76.47 579.41 L76.95 579.62 L77.43 579.82 L77.92 580.03 L78.42 580.22 L78.91 580.42 L79.41 580.61 L79.92 580.8 L80.43 580.99 L80.94 581.18 L81.46 581.36 L81.98 581.54 L82.5 581.71 L83.03 581.89 L83.56 582.06 L84.1 582.23 L84.64 582.39 L85.19 582.56 L85.73 582.72 L86.29 582.88 L86.84 583.04 L87.4 583.19 L87.97 583.34 L88.54 583.49 L89.11 583.64 L89.69 583.79 L90.27 583.93 L90.85 584.07 L91.44 584.21 L92.03 584.35 L92.63 584.48 L93.23 584.62 L93.83 584.75 L94.44 584.88 L95.05 585.01 L95.67 585.13 L96.29 585.26 L96.92 585.38 L97.55 585.5 L98.18 585.62 L98.82 585.74 L99.46 585.86 L100.1 585.97 L100.75 586.08 L101.41 586.19 L102.06 586.3 L102.72 586.41 L103.39 586.52 L104.06 586.63 L104.73 586.73 L105.41 586.83 L106.09 586.93 L106.78 587.03 L107.47 587.13 L108.17 587.23 L108.86 587.33 L109.57 587.42 L110.27 587.51 L110.99 587.61 L111.7 587.7 L112.42 587.79 L113.14 587.88 L113.87 587.96 L114.6 588.05 L115.34 588.14 L116.08 588.22 L116.82 588.3 L117.57 588.39 L118.33 588.47 L119.08 588.55 L119.84 588.63 L120.61 588.7 L121.38 588.78 L122.15 588.86 L122.93 588.93 L123.71 589.01 L124.5 589.08 L125.29 589.15 L126.09 589.23 L126.89 589.3 L127.69 589.37 L128.5 589.43 L129.31 589.5 L130.12 589.57 L130.95 589.64 L131.77 589.7 L132.6 589.77 L133.43 589.83 L134.27 589.9 L135.11 589.96 L135.96 590.02 L136.81 590.08 L137.66 590.14 L138.52 590.2 L139.38 590.26 L140.25 590.32 L141.12 590.38 L142 590.43 L142.88 590.49 L143.76 590.55 L144.65 590.6 L145.55 590.66 L146.44 590.71 L147.35 590.76 L148.25 590.81 L149.16 590.87 L150.08 590.92 L151 590.97 L151.92 591.02 L152.85 591.07 L153.78 591.12 L154.72 591.17 L155.66 591.21 L156.6 591.26 L157.55 591.31 L158.51 591.36 L159.47 591.4 L160.43 591.45 L161.4 591.49 L162.37 591.54 L163.34 591.58 L164.32 591.62 L165.31 591.67 L166.3 591.71 L167.29 591.75 L168.29 591.79 L169.29 591.84 L170.3 591.88 L171.31 591.92 L172.32 591.96 L173.34 592 L174.37 592.04 L175.4 592.07 L176.43 592.11 L177.47 592.15 L178.51 592.19 L179.55 592.23 L180.61 592.26 L181.66 592.3 L182.72 592.33 L183.78 592.37 L184.85 592.41 L185.93 592.44 L187 592.48 L188.08 592.51 L189.17 592.54 L190.26 592.58 L191.36 592.61 L192.46 592.64 L193.56 592.68 L194.67 592.71 L195.78 592.74 L196.9 592.77" fill="none" stroke="#222" stroke-width="1.2" stroke-linejoin="round" />
<path d="M44.2 511.9 L44.2 512.1 L44.2 512.81 L44.21 514.1 L44.21 515.94 L44.22 518.31 L44.23 521.14 L44.24 524.32 L44.25 527.77 L44.27 531.39 L44.29 535.08 L44.31 538.78 L44.33 542.41 L44.35 545.94 L44.38 549.31 L44.41 552.51 L44.44 555.53 L44.48 558.35 L44.51 560.98 L44.55 563.42 L44.59 565.68 L44.64 567.76 L44.69 569.69 L44.74 571.47 L44.79 573.1 L44.85 574.61 L44.9 576 L44.96 577.28 L45.03 578.46 L45.09 579.55 L45.16 580.55 L45.24 581.48 L45.31 582.34 L45.39 583.14 L45.47 583.88 L45.55 584.57 L45.64 585.2 L45.73 585.8 L45.82 586.35 L45.92 586.87 L46.01 587.35 L46.12 587.8 L46.22 588.22 L46.33 588.61 L46.44 588.98 L46.55 589.33 L46.67 589.65 L46.79 589.96 L46.91 590.25 L47.04 590.52 L47.16 590.78 L47.3 591.02 L47.43 591.25 L47.57 591.46 L47.71 591.67 L47.86 591.86 L48 592.05 L48.15 592.22 L48.31 592.39 L48.47 592.54 L48.63 592.69 L48.79 592.83 L48.96 592.97 L49.13 593.1 L49.3 593.22 L49.48 593.34 L49.66 593.45 L49.84 593.56 L50.03 593.66 L50.22 593.76 L50.41 593.85 L50.61 593.94 L50.81 594.03 L51.02 594.11 L51.22 594.19 L51.43 594.26 L51.65 594.34 L51.86 594.41 L52.08 594.47 L52.31 594.54 L52.54 594.6 L52.77 594.66 L53 594.72 L53.24 594.77 L53.48 594.83 L53.73 594.88 L53.97 594.93 L54.23 594.98 L54.48 595.02 L54.74 595.07 L55 595.11 L55.27 595.15 L55.54 595.19 L55.81 595.23 L56.09 595.27 L56.37 595.3 L56.65 595.34 L56.94 595.37 L57.23 595.4 L57.52 595.44 L57.82 595.47 L58.12 595.5 L58.43 595.53 L58.73 595.55 L59.05 595.58 L59.36 595.61 L59.68 595.63 L60.01 595.66 L60.33 595.68 L60.66 595.71 L61 595.73 L61.33 595.75 L61.68 595.77 L62.02 595.79 L62.37 595.82 L62.72 595.84 L63.08 595.85 L63.44 595.87 L63.8 595.89 L64.17 595.91 L64.54 595.93 L64.92 595.94 L65.29 595.96 L65.68 595.98 L66.06 595.99 L66.45 596.01 L66.85 596.02 L67.24 596.04 L67.64 596.05 L68.05 596.06 L68.46 596.08 L68.87 596.09 L69.29 596.1 L69.71 596.12 L70.13 596.13 L70.56 596.14 L70.99 596.15 L71.42 596.16 L71.86 596.18 L72.31 596.19 L72.75 596.2 L73.2 596.21 L73.66 596.22 L74.12 596.23 L74.58 596.24 L75.04 596.25 L75.51 596.26 L75.99 596.27 L76.47 596.27 L76.95 596.28 L77.43 596.29 L77.92 596.3 L78.42 596.31 L78.91 596.32 L79.41 596.32 L79.92 596.33 L80.43 596.34 L80.94 596.35 L81.46 596.35 L81.98 596.36 L82.5 596.37 L83.03 596.37 L83.56 596.38 L84.1 596.39 L84.64 596.39 L85.19 596.4 L85.73 596.41 L86.29 596.41 L86.84 596.42 L87.4 596.42 L87.97 596.43 L88.54 596.44 L89.11 596.44 L89.69 596.45 L90.27 596.45 L90.85 596.46 L91.44 596.46 L92.03 596.47 L92.63 596.47 L93.23 596.48 L93.83 596.48 L94.44 596.49 L95.05 596.49 L95.67 596.5 L96.29 596.5 L96.92 596.51 L97.55 596.51 L98.18 596.51 L98.82 596.52 L99.46 596.52 L100.1 596.53 L100.75 596.53 L101.41 596.53 L102.06 596.54 L102.72 596.54 L103.39 596.55 L104.06 596.55 L104.73 596.55 L105.41 596.56 L106.09 596.56 L106.78 596.56 L107.47 596.57 L108.17 596.57 L108.86 596.57 L109.57 596.58 L110.27 596.58 L110.99 596.58 L111.7 596.59 L112.42 596.59 L113.14 596.59 L113.87 596.59 L114.6 596.6 L115.34 596.6 L116.08 596.6 L116.82 596.61 L117.57 596.61 L118.33 596.61 L119.08 596.61 L119.84 596.62 L120.61 596.62 L121.38 596.62 L122.15 596.62 L122.93 596.63 L123.71 596.63 L124.5 596.63 L125.29 596.63 L126.09 596.64 L126.89 596.64 L127.69 596.64 L128.5 596.64 L129.31 596.64 L130.12 596.65 L130.95 596.65 L131.77 596.65 L132.6 596.65 L133.43 596.66 L134.27 596.66 L135.11 596.66 L135.96 596.66 L136.81 596.66 L137.66 596.67 L138.52 596.67 L139.38 596.67 L140.25 596.67 L141.12 596.67 L142 596.67 L142.88 596.68 L143.76 596.68 L144.65 596.68 L145.55 596.68 L146.44 596.68 L147.35 596.68 L148.25 596.69 L149.16 596.69 L150.08 596.69 L151 596.69 L151.92 596.69 L152.85 596.69 L153.78 596.7 L154.72 596.7 L155.66 596.7 L156.6 596.7 L157.55 596.7 L158.51 596.7 L159.47 596.7 L160.43 596.71 L161.4 596.71 L162.37 596.71 L163.34 596.71 L164.32 596.71 L165.31 596.71 L166.3 596.71 L167.29 596.72 L168.29 596.72 L169.29 596.72 L170.3 596.72 L171.31 596.72 L172.32 596.72 L173.34 596.72 L174.37 596.72 L175.4 596.72 L176.43 596.73 L177.47 596.73 L178.51 596.73 L179.55 596.73 L180.61 596.73 L181.66 596.73 L182.72 596.73 L183.78 596.73 L184.85 596.73 L185.93 596.74 L187 596.74 L188.08 596.74 L189.17 596.74 L190.26 596.74 L191.36 596.74 L192.46 596.74 L193.56 596.74 L194.67 596.74 L195.78 596.74 L196.9 596.75" fill="none" stroke="#a8a8a8" stroke-width="1.4" stroke-linejoin="round" />
<path d="M44.2 511.9 L44.2 512.02 L44.2 512.43 L44.21 513.18 L44.21 514.27 L44.22 515.7 L44.23 517.46 L44.24 519.5 L44.25 521.79 L44.27 524.29 L44.29 526.94 L44.31 529.71 L44.33 532.55 L44.35 535.42 L44.38 538.29 L44.41 541.12 L44.44 543.89 L44.48 546.58 L44.51 549.18 L44.55 551.68 L44.59 554.06 L44.64 556.32 L44.69 558.47 L44.74 560.51 L44.79 562.43 L44.85 564.24 L44.9 565.94 L44.96 567.54 L45.03 569.04 L45.09 570.45 L45.16 571.77 L45.24 573.01 L45.31 574.18 L45.39 575.27 L45.47 576.3 L45.55 577.26 L45.64 578.16 L45.73 579.01 L45.82 579.81 L45.92 580.56 L46.01 581.27 L46.12 581.93 L46.22 582.56 L46.33 583.15 L46.44 583.71 L46.55 584.23 L46.67 584.73 L46.79 585.2 L46.91 585.64 L47.04 586.06 L47.16 586.46 L47.3 586.84 L47.43 587.19 L47.57 587.53 L47.71 587.86 L47.86 588.16 L48 588.46 L48.15 588.73 L48.31 589 L48.47 589.25 L48.63 589.49 L48.79 589.72 L48.96 589.93 L49.13 590.14 L49.3 590.34 L49.48 590.53 L49.66 590.71 L49.84 590.89 L50.03 591.06 L50.22 591.22 L50.41 591.37 L50.61 591.52 L50.81 591.66 L51.02 591.79 L51.22 591.92 L51.43 592.05 L51.65 592.17 L51.86 592.28 L52.08 592.39 L52.31 592.5 L52.54 592.6 L52.77 592.7 L53 592.8 L53.24 592.89 L53.48 592.98 L53.73 593.06 L53.97 593.15 L54.23 593.23 L54.48 593.3 L54.74 593.38 L55 593.45 L55.27 593.52 L55.54 593.59 L55.81 593.65 L56.09 593.71 L56.37 593.77 L56.65 593.83 L56.94 593.89 L57.23 593.95 L57.52 594 L57.82 594.05 L58.12 594.1 L58.43 594.15 L58.73 594.2 L59.05 594.24 L59.36 594.29 L59.68 594.33 L60.01 594.37 L60.33 594.42 L60.66 594.46 L61 594.49 L61.33 594.53 L61.68 594.57 L62.02 594.6 L62.37 594.64 L62.72 594.67 L63.08 594.7 L63.44 594.74 L63.8 594.77 L64.17 594.8 L64.54 594.83 L64.92 594.86 L65.29 594.88 L65.68 594.91 L66.06 594.94 L66.45 594.96 L66.85 594.99 L67.24 595.01 L67.64 595.04 L68.05 595.06 L68.46 595.08 L68.87 595.11 L69.29 595.13 L69.71 595.15 L70.13 595.17 L70.56 595.19 L70.99 595.21 L71.42 595.23 L71.86 595.25 L72.31 595.27 L72.75 595.29 L73.2 595.3 L73.66 595.32 L74.12 595.34 L74.58 595.36 L75.04 595.37 L75.51 595.39 L75.99 595.4 L76.47 595.42 L76.95 595.43 L77.43 595.45 L77.92 595.46 L78.42 595.48 L78.91 595.49 L79.41 595.5 L79.92 595.52 L80.43 595.53 L80.94 595.54 L81.46 595.55 L81.98 595.57 L82.5 595.58 L83.03 595.59 L83.56 595.6 L84.1 595.61 L84.64 595.62 L85.19 595.63 L85.73 595.65 L86.29 595.66 L86.84 595.67 L87.4 595.68 L87.97 595.69 L88.54 595.7 L89.11 595.71 L89.69 595.71 L90.27 595.72 L90.85 595.73 L91.44 595.74 L92.03 595.75 L92.63 595.76 L93.23 595.77 L93.83 595.78 L94.44 595.78 L95.05 595.79 L95.67 595.8 L96.29 595.81 L96.92 595.81 L97.55 595.82 L98.18 595.83 L98.82 595.84 L99.46 595.84 L100.1 595.85 L100.75 595.86 L101.41 595.86 L102.06 595.87 L102.72 595.88 L103.39 595.88 L104.06 595.89 L104.73 595.9 L105.41 595.9 L106.09 595.91 L106.78 595.91 L107.47 595.92 L108.17 595.92 L108.86 595.93 L109.57 595.94 L110.27 595.94 L110.99 595.95 L111.7 595.95 L112.42 595.96 L113.14 595.96 L113.87 595.97 L114.6 595.97 L115.34 595.98 L116.08 595.98 L116.82 595.99 L117.57 595.99 L118.33 596 L119.08 596 L119.84 596 L120.61 596.01 L121.38 596.01 L122.15 596.02 L122.93 596.02 L123.71 596.03 L124.5 596.03 L125.29 596.03 L126.09 596.04 L126.89 596.04 L127.69 596.05 L128.5 596.05 L129.31 596.05 L130.12 596.06 L130.95 596.06 L131.77 596.06 L132.6 596.07 L133.43 596.07 L134.27 596.07 L135.11 596.08 L135.96 596.08 L136.81 596.09 L137.66 596.09 L138.52 596.09 L139.38 596.09 L140.25 596.1 L141.12 596.1 L142 596.1 L142.88 596.11 L143.76 596.11 L144.65 596.11 L145.55 596.12 L146.44 596.12 L147.35 596.12 L148.25 596.12 L149.16 596.13 L150.08 596.13 L151 596.13 L151.92 596.14 L152.85 596.14 L153.78 596.14 L154.72 596.14 L155.66 596.15 L156.6 596.15 L157.55 596.15 L158.51 596.15 L159.47 596.16 L160.43 596.16 L161.4 596.16 L162.37 596.16 L163.34 596.17 L164.32 596.17 L165.31 596.17 L166.3 596.17 L167.29 596.17 L168.29 596.18 L169.29 596.18 L170.3 596.18 L171.31 596.18 L172.32 596.18 L173.34 596.19 L174.37 596.19 L175.4 596.19 L176.43 596.19 L177.47 596.19 L178.51 596.2 L179.55 596.2 L180.61 596.2 L181.66 596.2 L182.72 596.2 L183.78 596.21 L184.85 596.21 L185.93 596.21 L187 596.21 L188.08 596.21 L189.17 596.22 L190.26 596.22 L191.36 596.22 L192.46 596.22 L193.56 596.22 L194.67 596.22 L195.78 596.23 L196.9 596.23" fill="none" stroke="#333" stroke-width="1.2" stroke-linejoin="round" />
<path d="M44.2 509L46.73 513.83L41.67 513.83Z" fill="#7a7a7a" />
<path d="M46.59 514.98L49.12 519.81L44.06 519.81Z" fill="#7a7a7a" />
<path d="M48.97 520.96L51.5 525.79L46.44 525.79Z" fill="#7a7a7a" />
<path d="M53.74 530.35L56.27 535.18L51.21 535.18Z" fill="#7a7a7a" />
<path d="M63.29 546.58L65.82 551.41L60.76 551.41Z" fill="#7a7a7a" />
<path d="M82.38 560.24L84.91 565.07L79.84 565.07Z" fill="#7a7a7a" />
<path d="M120.55 571.34L123.08 576.17L118.02 576.17Z" fill="#7a7a7a" />
<path d="M196.9 581.59L199.43 586.42L194.37 586.42Z" fill="#7a7a7a" />
<path d="M44.2 514.8L46.73 509.97L41.67 509.97Z" fill="#7a7a7a" />
<path d="M46.59 519.07L49.12 514.24L44.06 514.24Z" fill="#7a7a7a" />
<path d="M48.97 524.19L51.5 519.36L46.44 519.36Z" fill="#7a7a7a" />
<path d="M53.74 534.44L56.27 529.61L51.21 529.61Z" fill="#7a7a7a" />
<path d="M63.29 550.67L65.82 545.84L60.76 545.84Z" fill="#7a7a7a" />
<path d="M82.38 565.18L84.91 560.35L79.84 560.35Z" fill="#7a7a7a" />
<path d="M120.55 576.29L123.08 571.46L118.02 571.46Z" fill="#7a7a7a" />
<path d="M196.9 585.68L199.43 580.85L194.37 580.85Z" fill="#7a7a7a" />
<rect x="42.07" y="509.77" width="4.27" height="4.27" fill="#111" />
<rect x="44.45" y="531.37" width="4.27" height="4.27" fill="#111" />
<rect x="46.84" y="545.04" width="4.27" height="4.27" fill="#111" />
<rect x="51.61" y="554.34" width="4.27" height="4.27" fill="#111" />
<rect x="61.15" y="568.09" width="4.27" height="4.27" fill="#111" />
<rect x="80.24" y="576.89" width="4.27" height="4.27" fill="#111" />
<rect x="118.42" y="583.21" width="4.27" height="4.27" fill="#111" />
<rect x="194.77" y="587.48" width="4.27" height="4.27" fill="#111" />
<line x1="40.29" y1="506.74" x2="48.11" y2="513.64" stroke="#a8a8a8" stroke-width="1.5" />
<line x1="40.29" y1="513.64" x2="48.11" y2="506.74" stroke="#a8a8a8" stroke-width="1.5" />
<line x1="42.68" y1="575.92" x2="50.5" y2="582.82" stroke="#a8a8a8" stroke-width="1.5" />
<line x1="42.68" y1="582.82" x2="50.5" y2="575.92" stroke="#a8a8a8" stroke-width="1.5" />
<line x1="45.06" y1="577.62" x2="52.88" y2="584.52" stroke="#a8a8a8" stroke-width="1.5" />
<line x1="45.06" y1="584.52" x2="52.88" y2="577.62" stroke="#a8a8a8" stroke-width="1.5" />
<line x1="49.83" y1="581.38" x2="57.65" y2="588.28" stroke="#a8a8a8" stroke-width="1.5" />
<line x1="49.83" y1="588.28" x2="57.65" y2="581.38" stroke="#a8a8a8" stroke-width="1.5" />
<line x1="59.38" y1="586.76" x2="67.2" y2="593.66" stroke="#a8a8a8" stroke-width="1.5" />
<line x1="59.38" y1="593.66" x2="67.2" y2="586.76" stroke="#a8a8a8" stroke-width="1.5" />
<line x1="78.47" y1="587.79" x2="86.28" y2="594.69" stroke="#a8a8a8" stroke-width="1.5" />
<line x1="78.47" y1="594.69" x2="86.28" y2="587.79" stroke="#a8a8a8" stroke-width="1.5" />
<line x1="116.64" y1="589.58" x2="124.46" y2="596.48" stroke="#a8a8a8" stroke-width="1.5" />
<line x1="116.64" y1="596.48" x2="124.46" y2="589.58" stroke="#a8a8a8" stroke-width="1.5" />
<line x1="192.99" y1="590.43" x2="200.81" y2="597.33" stroke="#a8a8a8" stroke-width="1.5" />
<line x1="192.99" y1="597.33" x2="200.81" y2="590.43" stroke="#a8a8a8" stroke-width="1.5" />
<circle cx="44.2" cy="511.9" r="2.28" fill="#1a1a1a"/>
<circle cx="46.59" cy="582.53" r="2.28" fill="#1a1a1a"/>
<circle cx="48.97" cy="586.2" r="2.28" fill="#1a1a1a"/>
<circle cx="53.74" cy="589.44" r="2.28" fill="#1a1a1a"/>
<circle cx="63.29" cy="592.09" r="2.28" fill="#1a1a1a"/>
<circle cx="82.38" cy="593.8" r="2.28" fill="#1a1a1a"/>
<circle cx="120.55" cy="593.46" r="2.28" fill="#1a1a1a"/>
<circle cx="196.9" cy="593.88" r="2.28" fill="#1a1a1a"/>
<line x1="108.2" y1="513.5" x2="118.4" y2="513.5" stroke="#7a7a7a" stroke-width="1.2" />
<path d="M113.3 510.67L115.77 515.39L110.83 515.39Z" fill="#7a7a7a" />
<text x="125" y="516.47" font-size="8.3" stroke="#000" stroke-width="0.12">K1</text>
<line x1="108.2" y1="524.05" x2="118.4" y2="524.05" stroke="#7a7a7a" stroke-width="1.2" />
<path d="M113.3 526.88L115.77 522.16L110.83 522.16Z" fill="#7a7a7a" />
<text x="125" y="527.02" font-size="8.3" stroke="#000" stroke-width="0.12">K1+heparin</text>
<line x1="108.2" y1="534.6" x2="118.4" y2="534.6" stroke="#111" stroke-width="1.2" />
<rect x="111.12" y="532.42" width="4.37" height="4.37" fill="#111" />
<text x="125" y="537.57" font-size="8.3" stroke="#000" stroke-width="0.12">K1K2</text>
<line x1="108.2" y1="545.15" x2="118.4" y2="545.15" stroke="#111" stroke-width="1.2" />
<circle cx="113.3" cy="545.15" r="2.14" fill="#111"/>
<text x="125" y="548.12" font-size="8.3" stroke="#000" stroke-width="0.12">K1K2+heparin</text>
<line x1="108.2" y1="555.7" x2="118.4" y2="555.7" stroke="#a8a8a8" stroke-width="1.2" />
<line x1="108.37" y1="551.35" x2="118.23" y2="560.05" stroke="#a8a8a8" stroke-width="1.5" />
<line x1="108.37" y1="560.05" x2="118.23" y2="551.35" stroke="#a8a8a8" stroke-width="1.5" />
<text x="125" y="558.67" font-size="8.3" stroke="#000" stroke-width="0.12">Desmolaris</text>
<text x="269.6" y="494.3" font-size="16" font-weight="bold" stroke="#000" stroke-width="0.12">H</text>
<line x1="298.1" y1="494.76" x2="298.1" y2="598.2" stroke="#000" stroke-width="1.1" />
<line x1="295.1" y1="598.2" x2="298.1" y2="598.2" stroke="#000" stroke-width="1.1" />
<text x="293.6" y="600.36" font-size="7.7" font-weight="bold" text-anchor="end" stroke="#000" stroke-width="0.12">0.0</text>
<line x1="295.1" y1="580.96" x2="298.1" y2="580.96" stroke="#000" stroke-width="1.1" />
<text x="293.6" y="583.12" font-size="7.7" font-weight="bold" text-anchor="end" stroke="#000" stroke-width="0.12">0.2</text>
<line x1="295.1" y1="563.72" x2="298.1" y2="563.72" stroke="#000" stroke-width="1.1" />
<text x="293.6" y="565.88" font-size="7.7" font-weight="bold" text-anchor="end" stroke="#000" stroke-width="0.12">0.4</text>
<line x1="295.1" y1="546.48" x2="298.1" y2="546.48" stroke="#000" stroke-width="1.1" />
<text x="293.6" y="548.64" font-size="7.7" font-weight="bold" text-anchor="end" stroke="#000" stroke-width="0.12">0.6</text>
<line x1="295.1" y1="529.24" x2="298.1" y2="529.24" stroke="#000" stroke-width="1.1" />
<text x="293.6" y="531.4" font-size="7.7" font-weight="bold" text-anchor="end" stroke="#000" stroke-width="0.12">0.8</text>
<line x1="295.1" y1="512" x2="298.1" y2="512" stroke="#000" stroke-width="1.1" />
<text x="293.6" y="514.16" font-size="7.7" font-weight="bold" text-anchor="end" stroke="#000" stroke-width="0.12">1.0</text>
<line x1="295.1" y1="494.76" x2="298.1" y2="494.76" stroke="#000" stroke-width="1.1" />
<text x="293.6" y="496.92" font-size="7.7" font-weight="bold" text-anchor="end" stroke="#000" stroke-width="0.12">1.2</text>
<line x1="298.1" y1="598.2" x2="453.6" y2="598.2" stroke="#000" stroke-width="1.1" />
<line x1="299.8" y1="598.2" x2="299.8" y2="601.2" stroke="#000" stroke-width="1.1" />
<text x="299.8" y="609.52" font-size="7.6" font-weight="bold" text-anchor="middle" stroke="#000" stroke-width="0.12">0</text>
<line x1="338.23" y1="598.2" x2="338.23" y2="601.2" stroke="#000" stroke-width="1.1" />
<text x="338.23" y="609.52" font-size="7.6" font-weight="bold" text-anchor="middle" stroke="#000" stroke-width="0.12">25</text>
<line x1="376.65" y1="598.2" x2="376.65" y2="601.2" stroke="#000" stroke-width="1.1" />
<text x="376.65" y="609.52" font-size="7.6" font-weight="bold" text-anchor="middle" stroke="#000" stroke-width="0.12">50</text>
<line x1="415.07" y1="598.2" x2="415.07" y2="601.2" stroke="#000" stroke-width="1.1" />
<text x="415.07" y="609.52" font-size="7.6" font-weight="bold" text-anchor="middle" stroke="#000" stroke-width="0.12">75</text>
<line x1="453.5" y1="598.2" x2="453.5" y2="601.2" stroke="#000" stroke-width="1.1" />
<text x="453.5" y="609.52" font-size="7.6" font-weight="bold" text-anchor="middle" stroke="#000" stroke-width="0.12">100</text>
<text x="318.3" y="512.38" font-size="10" stroke="#000" stroke-width="0.12">FXIa</text>
<text x="375" y="621.66" font-size="8" font-weight="bold" text-anchor="middle" stroke="#000" stroke-width="0.12">Desmolaris (nM)</text>
<text x="277.8" y="546.5" font-size="10" font-weight="bold" text-anchor="middle" stroke="#000" stroke-width="0.12" transform="rotate(-90 277.8 546.5)">Vs/Vo</text>
<path d="M299.8 512 L299.8 512.01 L299.8 512.03 L299.81 512.06 L299.81 512.12 L299.82 512.19 L299.83 512.28 L299.84 512.39 L299.85 512.53 L299.87 512.68 L299.89 512.86 L299.91 513.06 L299.93 513.27 L299.95 513.52 L299.98 513.78 L300.01 514.06 L300.04 514.37 L300.08 514.7 L300.12 515.05 L300.16 515.41 L300.2 515.8 L300.24 516.21 L300.29 516.64 L300.34 517.09 L300.39 517.56 L300.45 518.05 L300.51 518.55 L300.57 519.07 L300.63 519.61 L300.7 520.16 L300.77 520.73 L300.84 521.31 L300.92 521.91 L301 522.52 L301.08 523.14 L301.16 523.77 L301.25 524.42 L301.34 525.07 L301.43 525.73 L301.53 526.41 L301.63 527.09 L301.73 527.78 L301.83 528.47 L301.94 529.17 L302.05 529.88 L302.17 530.59 L302.28 531.3 L302.4 532.02 L302.53 532.74 L302.65 533.46 L302.78 534.19 L302.92 534.91 L303.05 535.64 L303.19 536.37 L303.33 537.09 L303.48 537.82 L303.63 538.54 L303.78 539.26 L303.94 539.98 L304.09 540.69 L304.26 541.4 L304.42 542.11 L304.59 542.82 L304.76 543.52 L304.94 544.21 L305.11 544.9 L305.3 545.59 L305.48 546.27 L305.67 546.95 L305.86 547.62 L306.05 548.28 L306.25 548.94 L306.45 549.59 L306.66 550.23 L306.87 550.87 L307.08 551.5 L307.3 552.12 L307.51 552.74 L307.74 553.35 L307.96 553.96 L308.19 554.55 L308.42 555.14 L308.66 555.72 L308.9 556.3 L309.14 556.86 L309.39 557.42 L309.64 557.98 L309.89 558.52 L310.15 559.06 L310.41 559.59 L310.67 560.11 L310.94 560.63 L311.21 561.14 L311.49 561.64 L311.76 562.13 L312.05 562.62 L312.33 563.1 L312.62 563.57 L312.91 564.04 L313.21 564.5 L313.51 564.95 L313.81 565.4 L314.12 565.84 L314.43 566.27 L314.74 566.7 L315.06 567.12 L315.38 567.53 L315.71 567.94 L316.04 568.34 L316.37 568.73 L316.71 569.12 L317.05 569.5 L317.39 569.88 L317.74 570.25 L318.09 570.62 L318.44 570.97 L318.8 571.33 L319.16 571.68 L319.53 572.02 L319.9 572.36 L320.27 572.69 L320.65 573.01 L321.03 573.34 L321.42 573.65 L321.81 573.96 L322.2 574.27 L322.59 574.57 L322.99 574.87 L323.4 575.16 L323.81 575.45 L324.22 575.73 L324.63 576.01 L325.05 576.29 L325.47 576.56 L325.9 576.82 L326.33 577.08 L326.76 577.34 L327.2 577.6 L327.64 577.85 L328.09 578.09 L328.54 578.33 L328.99 578.57 L329.45 578.81 L329.91 579.04 L330.38 579.27 L330.85 579.49 L331.32 579.71 L331.8 579.93 L332.28 580.14 L332.76 580.35 L333.25 580.56 L333.74 580.76 L334.24 580.96 L334.74 581.16 L335.24 581.36 L335.75 581.55 L336.27 581.74 L336.78 581.93 L337.3 582.11 L337.83 582.29 L338.35 582.47 L338.89 582.64 L339.42 582.82 L339.96 582.99 L340.51 583.15 L341.05 583.32 L341.61 583.48 L342.16 583.64 L342.72 583.8 L343.29 583.96 L343.85 584.11 L344.43 584.26 L345 584.41 L345.58 584.56 L346.17 584.7 L346.76 584.85 L347.35 584.99 L347.94 585.13 L348.55 585.26 L349.15 585.4 L349.76 585.53 L350.37 585.66 L350.99 585.79 L351.61 585.92 L352.23 586.05 L352.86 586.17 L353.5 586.29 L354.13 586.41 L354.77 586.53 L355.42 586.65 L356.07 586.76 L356.72 586.88 L357.38 586.99 L358.04 587.1 L358.71 587.21 L359.38 587.32 L360.05 587.43 L360.73 587.53 L361.41 587.63 L362.1 587.74 L362.79 587.84 L363.49 587.94 L364.18 588.04 L364.89 588.13 L365.6 588.23 L366.31 588.32 L367.02 588.42 L367.74 588.51 L368.47 588.6 L369.2 588.69 L369.93 588.78 L370.66 588.86 L371.41 588.95 L372.15 589.04 L372.9 589.12 L373.65 589.2 L374.41 589.28 L375.17 589.37 L375.94 589.45 L376.71 589.52 L377.48 589.6 L378.26 589.68 L379.05 589.75 L379.83 589.83 L380.63 589.9 L381.42 589.98 L382.22 590.05 L383.03 590.12 L383.84 590.19 L384.65 590.26 L385.47 590.33 L386.29 590.4 L387.11 590.47 L387.94 590.53 L388.78 590.6 L389.62 590.66 L390.46 590.73 L391.31 590.79 L392.16 590.85 L393.01 590.91 L393.87 590.97 L394.74 591.03 L395.61 591.09 L396.48 591.15 L397.36 591.21 L398.24 591.27 L399.13 591.33 L400.02 591.38 L400.91 591.44 L401.81 591.49 L402.71 591.55 L403.62 591.6 L404.53 591.65 L405.45 591.71 L406.37 591.76 L407.3 591.81 L408.23 591.86 L409.16 591.91 L410.1 591.96 L411.04 592.01 L411.99 592.06 L412.94 592.11 L413.9 592.15 L414.86 592.2 L415.82 592.25 L416.79 592.29 L417.76 592.34 L418.74 592.38 L419.72 592.43 L420.71 592.47 L421.7 592.51 L422.7 592.56 L423.7 592.6 L424.7 592.64 L425.71 592.68 L426.72 592.73 L427.74 592.77 L428.76 592.81 L429.79 592.85 L430.82 592.89 L431.85 592.93 L432.89 592.96 L433.94 593 L434.99 593.04 L436.04 593.08 L437.1 593.11 L438.16 593.15 L439.23 593.19 L440.3 593.22 L441.37 593.26 L442.45 593.29 L443.54 593.33 L444.63 593.36 L445.72 593.4 L446.82 593.43 L447.92 593.47 L449.03 593.5 L450.14 593.53 L451.25 593.56 L452.38 593.6 L453.5 593.63" fill="none" stroke="#7a7a7a" stroke-width="1.3" stroke-linejoin="round" />
<path d="M299.8 512 L299.8 512 L299.8 512.02 L299.81 512.04 L299.81 512.08 L299.82 512.14 L299.83 512.2 L299.84 512.28 L299.85 512.38 L299.87 512.49 L299.89 512.62 L299.91 512.76 L299.93 512.92 L299.95 513.09 L299.98 513.28 L300.01 513.49 L300.04 513.71 L300.08 513.95 L300.12 514.21 L300.16 514.48 L300.2 514.77 L300.24 515.07 L300.29 515.39 L300.34 515.72 L300.39 516.07 L300.45 516.43 L300.51 516.81 L300.57 517.2 L300.63 517.6 L300.7 518.02 L300.77 518.45 L300.84 518.9 L300.92 519.35 L301 519.82 L301.08 520.3 L301.16 520.79 L301.25 521.29 L301.34 521.8 L301.43 522.32 L301.53 522.86 L301.63 523.39 L301.73 523.94 L301.83 524.5 L301.94 525.06 L302.05 525.63 L302.17 526.21 L302.28 526.79 L302.4 527.38 L302.53 527.98 L302.65 528.57 L302.78 529.18 L302.92 529.78 L303.05 530.4 L303.19 531.01 L303.33 531.63 L303.48 532.24 L303.63 532.86 L303.78 533.49 L303.94 534.11 L304.09 534.73 L304.26 535.36 L304.42 535.98 L304.59 536.61 L304.76 537.23 L304.94 537.85 L305.11 538.47 L305.3 539.09 L305.48 539.71 L305.67 540.33 L305.86 540.94 L306.05 541.55 L306.25 542.16 L306.45 542.77 L306.66 543.37 L306.87 543.97 L307.08 544.57 L307.3 545.16 L307.51 545.75 L307.74 546.33 L307.96 546.91 L308.19 547.49 L308.42 548.06 L308.66 548.63 L308.9 549.19 L309.14 549.75 L309.39 550.3 L309.64 550.85 L309.89 551.4 L310.15 551.93 L310.41 552.47 L310.67 553 L310.94 553.52 L311.21 554.04 L311.49 554.55 L311.76 555.06 L312.05 555.56 L312.33 556.05 L312.62 556.55 L312.91 557.03 L313.21 557.51 L313.51 557.99 L313.81 558.45 L314.12 558.92 L314.43 559.38 L314.74 559.83 L315.06 560.28 L315.38 560.72 L315.71 561.16 L316.04 561.59 L316.37 562.02 L316.71 562.44 L317.05 562.85 L317.39 563.26 L317.74 563.67 L318.09 564.07 L318.44 564.46 L318.8 564.85 L319.16 565.24 L319.53 565.62 L319.9 566 L320.27 566.37 L320.65 566.73 L321.03 567.09 L321.42 567.45 L321.81 567.8 L322.2 568.15 L322.59 568.49 L322.99 568.83 L323.4 569.16 L323.81 569.49 L324.22 569.81 L324.63 570.13 L325.05 570.45 L325.47 570.76 L325.9 571.07 L326.33 571.37 L326.76 571.67 L327.2 571.97 L327.64 572.26 L328.09 572.54 L328.54 572.83 L328.99 573.11 L329.45 573.38 L329.91 573.65 L330.38 573.92 L330.85 574.19 L331.32 574.45 L331.8 574.71 L332.28 574.96 L332.76 575.21 L333.25 575.46 L333.74 575.7 L334.24 575.94 L334.74 576.18 L335.24 576.41 L335.75 576.64 L336.27 576.87 L336.78 577.1 L337.3 577.32 L337.83 577.54 L338.35 577.75 L338.89 577.97 L339.42 578.18 L339.96 578.38 L340.51 578.59 L341.05 578.79 L341.61 578.99 L342.16 579.19 L342.72 579.38 L343.29 579.57 L343.85 579.76 L344.43 579.95 L345 580.13 L345.58 580.31 L346.17 580.49 L346.76 580.67 L347.35 580.84 L347.94 581.01 L348.55 581.18 L349.15 581.35 L349.76 581.52 L350.37 581.68 L350.99 581.84 L351.61 582 L352.23 582.16 L352.86 582.31 L353.5 582.47 L354.13 582.62 L354.77 582.77 L355.42 582.91 L356.07 583.06 L356.72 583.2 L357.38 583.35 L358.04 583.49 L358.71 583.62 L359.38 583.76 L360.05 583.89 L360.73 584.03 L361.41 584.16 L362.1 584.29 L362.79 584.42 L363.49 584.54 L364.18 584.67 L364.89 584.79 L365.6 584.91 L366.31 585.03 L367.02 585.15 L367.74 585.27 L368.47 585.39 L369.2 585.5 L369.93 585.62 L370.66 585.73 L371.41 585.84 L372.15 585.95 L372.9 586.05 L373.65 586.16 L374.41 586.27 L375.17 586.37 L375.94 586.47 L376.71 586.58 L377.48 586.68 L378.26 586.78 L379.05 586.87 L379.83 586.97 L380.63 587.07 L381.42 587.16 L382.22 587.25 L383.03 587.35 L383.84 587.44 L384.65 587.53 L385.47 587.62 L386.29 587.71 L387.11 587.79 L387.94 587.88 L388.78 587.96 L389.62 588.05 L390.46 588.13 L391.31 588.21 L392.16 588.3 L393.01 588.38 L393.87 588.46 L394.74 588.54 L395.61 588.61 L396.48 588.69 L397.36 588.77 L398.24 588.84 L399.13 588.92 L400.02 588.99 L400.91 589.06 L401.81 589.13 L402.71 589.21 L403.62 589.28 L404.53 589.35 L405.45 589.42 L406.37 589.48 L407.3 589.55 L408.23 589.62 L409.16 589.68 L410.1 589.75 L411.04 589.81 L411.99 589.88 L412.94 589.94 L413.9 590 L414.86 590.07 L415.82 590.13 L416.79 590.19 L417.76 590.25 L418.74 590.31 L419.72 590.37 L420.71 590.42 L421.7 590.48 L422.7 590.54 L423.7 590.59 L424.7 590.65 L425.71 590.71 L426.72 590.76 L427.74 590.81 L428.76 590.87 L429.79 590.92 L430.82 590.97 L431.85 591.03 L432.89 591.08 L433.94 591.13 L434.99 591.18 L436.04 591.23 L437.1 591.28 L438.16 591.33 L439.23 591.37 L440.3 591.42 L441.37 591.47 L442.45 591.52 L443.54 591.56 L444.63 591.61 L445.72 591.66 L446.82 591.7 L447.92 591.75 L449.03 591.79 L450.14 591.83 L451.25 591.88 L452.38 591.92 L453.5 591.96" fill="none" stroke="#7a7a7a" stroke-width="1.3" stroke-linejoin="round" />
<path d="M299.8 512 L299.8 512.01 L299.8 512.05 L299.81 512.11 L299.81 512.21 L299.82 512.35 L299.83 512.52 L299.84 512.73 L299.85 512.98 L299.87 513.26 L299.89 513.59 L299.91 513.95 L299.93 514.35 L299.95 514.79 L299.98 515.26 L300.01 515.77 L300.04 516.32 L300.08 516.9 L300.12 517.52 L300.16 518.16 L300.2 518.84 L300.24 519.55 L300.29 520.28 L300.34 521.04 L300.39 521.83 L300.45 522.64 L300.51 523.47 L300.57 524.32 L300.63 525.19 L300.7 526.08 L300.77 526.98 L300.84 527.89 L300.92 528.82 L301 529.75 L301.08 530.7 L301.16 531.65 L301.25 532.6 L301.34 533.56 L301.43 534.53 L301.53 535.49 L301.63 536.45 L301.73 537.42 L301.83 538.38 L301.94 539.33 L302.05 540.29 L302.17 541.23 L302.28 542.18 L302.4 543.11 L302.53 544.04 L302.65 544.96 L302.78 545.86 L302.92 546.76 L303.05 547.65 L303.19 548.53 L303.33 549.4 L303.48 550.26 L303.63 551.1 L303.78 551.94 L303.94 552.76 L304.09 553.57 L304.26 554.36 L304.42 555.15 L304.59 555.92 L304.76 556.68 L304.94 557.42 L305.11 558.15 L305.3 558.87 L305.48 559.58 L305.67 560.27 L305.86 560.95 L306.05 561.62 L306.25 562.28 L306.45 562.92 L306.66 563.55 L306.87 564.17 L307.08 564.77 L307.3 565.37 L307.51 565.95 L307.74 566.52 L307.96 567.08 L308.19 567.63 L308.42 568.17 L308.66 568.69 L308.9 569.21 L309.14 569.71 L309.39 570.21 L309.64 570.69 L309.89 571.17 L310.15 571.63 L310.41 572.08 L310.67 572.53 L310.94 572.97 L311.21 573.39 L311.49 573.81 L311.76 574.22 L312.05 574.62 L312.33 575.01 L312.62 575.4 L312.91 575.77 L313.21 576.14 L313.51 576.5 L313.81 576.86 L314.12 577.2 L314.43 577.54 L314.74 577.87 L315.06 578.2 L315.38 578.52 L315.71 578.83 L316.04 579.14 L316.37 579.44 L316.71 579.73 L317.05 580.02 L317.39 580.3 L317.74 580.57 L318.09 580.84 L318.44 581.11 L318.8 581.37 L319.16 581.62 L319.53 581.87 L319.9 582.12 L320.27 582.36 L320.65 582.59 L321.03 582.82 L321.42 583.05 L321.81 583.27 L322.2 583.48 L322.59 583.7 L322.99 583.91 L323.4 584.11 L323.81 584.31 L324.22 584.51 L324.63 584.7 L325.05 584.89 L325.47 585.08 L325.9 585.26 L326.33 585.44 L326.76 585.61 L327.2 585.78 L327.64 585.95 L328.09 586.12 L328.54 586.28 L328.99 586.44 L329.45 586.6 L329.91 586.75 L330.38 586.9 L330.85 587.05 L331.32 587.2 L331.8 587.34 L332.28 587.48 L332.76 587.62 L333.25 587.76 L333.74 587.89 L334.24 588.02 L334.74 588.15 L335.24 588.28 L335.75 588.4 L336.27 588.52 L336.78 588.64 L337.3 588.76 L337.83 588.88 L338.35 588.99 L338.89 589.1 L339.42 589.21 L339.96 589.32 L340.51 589.43 L341.05 589.53 L341.61 589.64 L342.16 589.74 L342.72 589.84 L343.29 589.94 L343.85 590.03 L344.43 590.13 L345 590.22 L345.58 590.31 L346.17 590.4 L346.76 590.49 L347.35 590.58 L347.94 590.67 L348.55 590.75 L349.15 590.83 L349.76 590.92 L350.37 591 L350.99 591.08 L351.61 591.16 L352.23 591.23 L352.86 591.31 L353.5 591.38 L354.13 591.46 L354.77 591.53 L355.42 591.6 L356.07 591.67 L356.72 591.74 L357.38 591.81 L358.04 591.88 L358.71 591.94 L359.38 592.01 L360.05 592.07 L360.73 592.14 L361.41 592.2 L362.1 592.26 L362.79 592.32 L363.49 592.38 L364.18 592.44 L364.89 592.5 L365.6 592.55 L366.31 592.61 L367.02 592.67 L367.74 592.72 L368.47 592.78 L369.2 592.83 L369.93 592.88 L370.66 592.93 L371.41 592.99 L372.15 593.04 L372.9 593.09 L373.65 593.13 L374.41 593.18 L375.17 593.23 L375.94 593.28 L376.71 593.32 L377.48 593.37 L378.26 593.42 L379.05 593.46 L379.83 593.5 L380.63 593.55 L381.42 593.59 L382.22 593.63 L383.03 593.67 L383.84 593.72 L384.65 593.76 L385.47 593.8 L386.29 593.84 L387.11 593.88 L387.94 593.91 L388.78 593.95 L389.62 593.99 L390.46 594.03 L391.31 594.06 L392.16 594.1 L393.01 594.14 L393.87 594.17 L394.74 594.21 L395.61 594.24 L396.48 594.28 L397.36 594.31 L398.24 594.34 L399.13 594.38 L400.02 594.41 L400.91 594.44 L401.81 594.47 L402.71 594.5 L403.62 594.53 L404.53 594.57 L405.45 594.6 L406.37 594.63 L407.3 594.65 L408.23 594.68 L409.16 594.71 L410.1 594.74 L411.04 594.77 L411.99 594.8 L412.94 594.82 L413.9 594.85 L414.86 594.88 L415.82 594.91 L416.79 594.93 L417.76 594.96 L418.74 594.98 L419.72 595.01 L420.71 595.03 L421.7 595.06 L422.7 595.08 L423.7 595.11 L424.7 595.13 L425.71 595.15 L426.72 595.18 L427.74 595.2 L428.76 595.22 L429.79 595.25 L430.82 595.27 L431.85 595.29 L432.89 595.31 L433.94 595.34 L434.99 595.36 L436.04 595.38 L437.1 595.4 L438.16 595.42 L439.23 595.44 L440.3 595.46 L441.37 595.48 L442.45 595.5 L443.54 595.52 L444.63 595.54 L445.72 595.56 L446.82 595.58 L447.92 595.6 L449.03 595.62 L450.14 595.63 L451.25 595.65 L452.38 595.67 L453.5 595.69" fill="none" stroke="#222" stroke-width="1.2" stroke-linejoin="round" />
<path d="M299.8 512 L299.8 512.34 L299.8 513.52 L299.81 515.62 L299.81 518.57 L299.82 522.24 L299.83 526.44 L299.84 530.98 L299.85 535.67 L299.87 540.35 L299.89 544.9 L299.91 549.23 L299.93 553.29 L299.95 557.05 L299.98 560.51 L300.01 563.66 L300.04 566.51 L300.08 569.1 L300.12 571.43 L300.16 573.53 L300.2 575.43 L300.24 577.14 L300.29 578.69 L300.34 580.09 L300.39 581.35 L300.45 582.49 L300.51 583.53 L300.57 584.48 L300.63 585.34 L300.7 586.12 L300.77 586.84 L300.84 587.49 L300.92 588.09 L301 588.65 L301.08 589.15 L301.16 589.62 L301.25 590.06 L301.34 590.46 L301.43 590.83 L301.53 591.17 L301.63 591.49 L301.73 591.79 L301.83 592.06 L301.94 592.32 L302.05 592.56 L302.17 592.79 L302.28 593 L302.4 593.2 L302.53 593.38 L302.65 593.56 L302.78 593.72 L302.92 593.88 L303.05 594.02 L303.19 594.16 L303.33 594.29 L303.48 594.41 L303.63 594.53 L303.78 594.64 L303.94 594.74 L304.09 594.84 L304.26 594.94 L304.42 595.03 L304.59 595.11 L304.76 595.19 L304.94 595.27 L305.11 595.34 L305.3 595.41 L305.48 595.48 L305.67 595.54 L305.86 595.6 L306.05 595.66 L306.25 595.72 L306.45 595.77 L306.66 595.82 L306.87 595.87 L307.08 595.92 L307.3 595.96 L307.51 596 L307.74 596.05 L307.96 596.09 L308.19 596.12 L308.42 596.16 L308.66 596.2 L308.9 596.23 L309.14 596.26 L309.39 596.29 L309.64 596.32 L309.89 596.35 L310.15 596.38 L310.41 596.41 L310.67 596.44 L310.94 596.46 L311.21 596.49 L311.49 596.51 L311.76 596.53 L312.05 596.56 L312.33 596.58 L312.62 596.6 L312.91 596.62 L313.21 596.64 L313.51 596.66 L313.81 596.67 L314.12 596.69 L314.43 596.71 L314.74 596.73 L315.06 596.74 L315.38 596.76 L315.71 596.77 L316.04 596.79 L316.37 596.8 L316.71 596.82 L317.05 596.83 L317.39 596.84 L317.74 596.86 L318.09 596.87 L318.44 596.88 L318.8 596.89 L319.16 596.9 L319.53 596.92 L319.9 596.93 L320.27 596.94 L320.65 596.95 L321.03 596.96 L321.42 596.97 L321.81 596.98 L322.2 596.99 L322.59 596.99 L322.99 597 L323.4 597.01 L323.81 597.02 L324.22 597.03 L324.63 597.04 L325.05 597.04 L325.47 597.05 L325.9 597.06 L326.33 597.07 L326.76 597.07 L327.2 597.08 L327.64 597.09 L328.09 597.09 L328.54 597.1 L328.99 597.11 L329.45 597.11 L329.91 597.12 L330.38 597.13 L330.85 597.13 L331.32 597.14 L331.8 597.14 L332.28 597.15 L332.76 597.15 L333.25 597.16 L333.74 597.16 L334.24 597.17 L334.74 597.17 L335.24 597.18 L335.75 597.18 L336.27 597.19 L336.78 597.19 L337.3 597.2 L337.83 597.2 L338.35 597.2 L338.89 597.21 L339.42 597.21 L339.96 597.22 L340.51 597.22 L341.05 597.22 L341.61 597.23 L342.16 597.23 L342.72 597.24 L343.29 597.24 L343.85 597.24 L344.43 597.25 L345 597.25 L345.58 597.25 L346.17 597.26 L346.76 597.26 L347.35 597.26 L347.94 597.27 L348.55 597.27 L349.15 597.27 L349.76 597.27 L350.37 597.28 L350.99 597.28 L351.61 597.28 L352.23 597.29 L352.86 597.29 L353.5 597.29 L354.13 597.29 L354.77 597.3 L355.42 597.3 L356.07 597.3 L356.72 597.3 L357.38 597.31 L358.04 597.31 L358.71 597.31 L359.38 597.31 L360.05 597.31 L360.73 597.32 L361.41 597.32 L362.1 597.32 L362.79 597.32 L363.49 597.33 L364.18 597.33 L364.89 597.33 L365.6 597.33 L366.31 597.33 L367.02 597.33 L367.74 597.34 L368.47 597.34 L369.2 597.34 L369.93 597.34 L370.66 597.34 L371.41 597.35 L372.15 597.35 L372.9 597.35 L373.65 597.35 L374.41 597.35 L375.17 597.35 L375.94 597.36 L376.71 597.36 L377.48 597.36 L378.26 597.36 L379.05 597.36 L379.83 597.36 L380.63 597.36 L381.42 597.37 L382.22 597.37 L383.03 597.37 L383.84 597.37 L384.65 597.37 L385.47 597.37 L386.29 597.37 L387.11 597.38 L387.94 597.38 L388.78 597.38 L389.62 597.38 L390.46 597.38 L391.31 597.38 L392.16 597.38 L393.01 597.38 L393.87 597.38 L394.74 597.39 L395.61 597.39 L396.48 597.39 L397.36 597.39 L398.24 597.39 L399.13 597.39 L400.02 597.39 L400.91 597.39 L401.81 597.39 L402.71 597.4 L403.62 597.4 L404.53 597.4 L405.45 597.4 L406.37 597.4 L407.3 597.4 L408.23 597.4 L409.16 597.4 L410.1 597.4 L411.04 597.4 L411.99 597.41 L412.94 597.41 L413.9 597.41 L414.86 597.41 L415.82 597.41 L416.79 597.41 L417.76 597.41 L418.74 597.41 L419.72 597.41 L420.71 597.41 L421.7 597.41 L422.7 597.41 L423.7 597.42 L424.7 597.42 L425.71 597.42 L426.72 597.42 L427.74 597.42 L428.76 597.42 L429.79 597.42 L430.82 597.42 L431.85 597.42 L432.89 597.42 L433.94 597.42 L434.99 597.42 L436.04 597.42 L437.1 597.42 L438.16 597.42 L439.23 597.43 L440.3 597.43 L441.37 597.43 L442.45 597.43 L443.54 597.43 L444.63 597.43 L445.72 597.43 L446.82 597.43 L447.92 597.43 L449.03 597.43 L450.14 597.43 L451.25 597.43 L452.38 597.43 L453.5 597.43" fill="none" stroke="#a8a8a8" stroke-width="1.4" stroke-linejoin="round" />
<path d="M299.8 512 L299.8 512.51 L299.8 514.27 L299.81 517.34 L299.81 521.54 L299.82 526.55 L299.83 532.06 L299.84 537.73 L299.85 543.31 L299.87 548.62 L299.89 553.55 L299.91 558.05 L299.93 562.09 L299.95 565.71 L299.98 568.91 L300.01 571.75 L300.04 574.25 L300.08 576.47 L300.12 578.42 L300.16 580.15 L300.2 581.69 L300.24 583.05 L300.29 584.26 L300.34 585.34 L300.39 586.31 L300.45 587.18 L300.51 587.96 L300.57 588.66 L300.63 589.3 L300.7 589.88 L300.77 590.4 L300.84 590.88 L300.92 591.31 L301 591.71 L301.08 592.07 L301.16 592.41 L301.25 592.72 L301.34 593 L301.43 593.26 L301.53 593.5 L301.63 593.73 L301.73 593.94 L301.83 594.13 L301.94 594.31 L302.05 594.48 L302.17 594.63 L302.28 594.78 L302.4 594.92 L302.53 595.05 L302.65 595.17 L302.78 595.28 L302.92 595.39 L303.05 595.49 L303.19 595.58 L303.33 595.67 L303.48 595.76 L303.63 595.84 L303.78 595.91 L303.94 595.98 L304.09 596.05 L304.26 596.11 L304.42 596.18 L304.59 596.23 L304.76 596.29 L304.94 596.34 L305.11 596.39 L305.3 596.44 L305.48 596.48 L305.67 596.53 L305.86 596.57 L306.05 596.61 L306.25 596.65 L306.45 596.68 L306.66 596.72 L306.87 596.75 L307.08 596.78 L307.3 596.81 L307.51 596.84 L307.74 596.87 L307.96 596.9 L308.19 596.92 L308.42 596.95 L308.66 596.97 L308.9 596.99 L309.14 597.02 L309.39 597.04 L309.64 597.06 L309.89 597.08 L310.15 597.1 L310.41 597.12 L310.67 597.13 L310.94 597.15 L311.21 597.17 L311.49 597.18 L311.76 597.2 L312.05 597.21 L312.33 597.23 L312.62 597.24 L312.91 597.26 L313.21 597.27 L313.51 597.28 L313.81 597.29 L314.12 597.31 L314.43 597.32 L314.74 597.33 L315.06 597.34 L315.38 597.35 L315.71 597.36 L316.04 597.37 L316.37 597.38 L316.71 597.39 L317.05 597.4 L317.39 597.41 L317.74 597.42 L318.09 597.42 L318.44 597.43 L318.8 597.44 L319.16 597.45 L319.53 597.46 L319.9 597.46 L320.27 597.47 L320.65 597.48 L321.03 597.48 L321.42 597.49 L321.81 597.5 L322.2 597.5 L322.59 597.51 L322.99 597.52 L323.4 597.52 L323.81 597.53 L324.22 597.53 L324.63 597.54 L325.05 597.54 L325.47 597.55 L325.9 597.55 L326.33 597.56 L326.76 597.56 L327.2 597.57 L327.64 597.57 L328.09 597.58 L328.54 597.58 L328.99 597.58 L329.45 597.59 L329.91 597.59 L330.38 597.6 L330.85 597.6 L331.32 597.6 L331.8 597.61 L332.28 597.61 L332.76 597.62 L333.25 597.62 L333.74 597.62 L334.24 597.63 L334.74 597.63 L335.24 597.63 L335.75 597.64 L336.27 597.64 L336.78 597.64 L337.3 597.64 L337.83 597.65 L338.35 597.65 L338.89 597.65 L339.42 597.66 L339.96 597.66 L340.51 597.66 L341.05 597.66 L341.61 597.67 L342.16 597.67 L342.72 597.67 L343.29 597.67 L343.85 597.68 L344.43 597.68 L345 597.68 L345.58 597.68 L346.17 597.68 L346.76 597.69 L347.35 597.69 L347.94 597.69 L348.55 597.69 L349.15 597.7 L349.76 597.7 L350.37 597.7 L350.99 597.7 L351.61 597.7 L352.23 597.7 L352.86 597.71 L353.5 597.71 L354.13 597.71 L354.77 597.71 L355.42 597.71 L356.07 597.71 L356.72 597.72 L357.38 597.72 L358.04 597.72 L358.71 597.72 L359.38 597.72 L360.05 597.72 L360.73 597.73 L361.41 597.73 L362.1 597.73 L362.79 597.73 L363.49 597.73 L364.18 597.73 L364.89 597.73 L365.6 597.74 L366.31 597.74 L367.02 597.74 L367.74 597.74 L368.47 597.74 L369.2 597.74 L369.93 597.74 L370.66 597.74 L371.41 597.74 L372.15 597.75 L372.9 597.75 L373.65 597.75 L374.41 597.75 L375.17 597.75 L375.94 597.75 L376.71 597.75 L377.48 597.75 L378.26 597.75 L379.05 597.76 L379.83 597.76 L380.63 597.76 L381.42 597.76 L382.22 597.76 L383.03 597.76 L383.84 597.76 L384.65 597.76 L385.47 597.76 L386.29 597.76 L387.11 597.76 L387.94 597.77 L388.78 597.77 L389.62 597.77 L390.46 597.77 L391.31 597.77 L392.16 597.77 L393.01 597.77 L393.87 597.77 L394.74 597.77 L395.61 597.77 L396.48 597.77 L397.36 597.77 L398.24 597.77 L399.13 597.78 L400.02 597.78 L400.91 597.78 L401.81 597.78 L402.71 597.78 L403.62 597.78 L404.53 597.78 L405.45 597.78 L406.37 597.78 L407.3 597.78 L408.23 597.78 L409.16 597.78 L410.1 597.78 L411.04 597.78 L411.99 597.78 L412.94 597.79 L413.9 597.79 L414.86 597.79 L415.82 597.79 L416.79 597.79 L417.76 597.79 L418.74 597.79 L419.72 597.79 L420.71 597.79 L421.7 597.79 L422.7 597.79 L423.7 597.79 L424.7 597.79 L425.71 597.79 L426.72 597.79 L427.74 597.79 L428.76 597.79 L429.79 597.79 L430.82 597.79 L431.85 597.8 L432.89 597.8 L433.94 597.8 L434.99 597.8 L436.04 597.8 L437.1 597.8 L438.16 597.8 L439.23 597.8 L440.3 597.8 L441.37 597.8 L442.45 597.8 L443.54 597.8 L444.63 597.8 L445.72 597.8 L446.82 597.8 L447.92 597.8 L449.03 597.8 L450.14 597.8 L451.25 597.8 L452.38 597.8 L453.5 597.8" fill="none" stroke="#222" stroke-width="1.3" stroke-linejoin="round" />
<path d="M299.8 509.1L302.33 513.93L297.27 513.93Z" fill="#7a7a7a" />
<path d="M302.2 530.65L304.73 535.48L299.67 535.48Z" fill="#7a7a7a" />
<path d="M304.6 541.86L307.13 546.69L302.07 546.69Z" fill="#7a7a7a" />
<path d="M309.41 557.37L311.94 562.2L306.88 562.2Z" fill="#7a7a7a" />
<path d="M319.01 567.72L321.54 572.55L316.48 572.55Z" fill="#7a7a7a" />
<path d="M338.23 578.06L340.75 582.89L335.7 582.89Z" fill="#7a7a7a" />
<path d="M376.65 585.82L379.18 590.65L374.12 590.65Z" fill="#7a7a7a" />
<path d="M453.5 590.99L456.03 595.82L450.97 595.82Z" fill="#7a7a7a" />
<path d="M299.8 514.9L302.33 510.07L297.27 510.07Z" fill="#7a7a7a" />
<path d="M302.2 527.83L304.73 523L299.67 523Z" fill="#7a7a7a" />
<path d="M304.6 539.9L307.13 535.07L302.07 535.07Z" fill="#7a7a7a" />
<path d="M309.41 555.41L311.94 550.58L306.88 550.58Z" fill="#7a7a7a" />
<path d="M319.01 568.34L321.54 563.51L316.48 563.51Z" fill="#7a7a7a" />
<path d="M338.23 579.55L340.75 574.72L335.7 574.72Z" fill="#7a7a7a" />
<path d="M376.65 589.89L379.18 585.06L374.12 585.06Z" fill="#7a7a7a" />
<path d="M453.5 595.93L456.03 591.1L450.97 591.1Z" fill="#7a7a7a" />
<rect x="297.67" y="509.87" width="4.27" height="4.27" fill="#111" />
<rect x="300.07" y="538.31" width="4.27" height="4.27" fill="#111" />
<rect x="302.47" y="555.55" width="4.27" height="4.27" fill="#111" />
<rect x="307.27" y="572.79" width="4.27" height="4.27" fill="#111" />
<rect x="316.88" y="582.27" width="4.27" height="4.27" fill="#111" />
<rect x="336.09" y="585.29" width="4.27" height="4.27" fill="#111" />
<rect x="374.52" y="591.76" width="4.27" height="4.27" fill="#111" />
<rect x="451.37" y="593.48" width="4.27" height="4.27" fill="#111" />
<line x1="295.89" y1="506.83" x2="303.71" y2="513.73" stroke="#a8a8a8" stroke-width="1.5" />
<line x1="295.89" y1="513.73" x2="303.71" y2="506.83" stroke="#a8a8a8" stroke-width="1.5" />
<line x1="298.29" y1="588.72" x2="306.11" y2="595.62" stroke="#a8a8a8" stroke-width="1.5" />
<line x1="298.29" y1="595.62" x2="306.11" y2="588.72" stroke="#a8a8a8" stroke-width="1.5" />
<line x1="300.69" y1="589.58" x2="308.51" y2="596.48" stroke="#a8a8a8" stroke-width="1.5" />
<line x1="300.69" y1="596.48" x2="308.51" y2="589.58" stroke="#a8a8a8" stroke-width="1.5" />
<line x1="305.5" y1="591.3" x2="313.32" y2="598.2" stroke="#a8a8a8" stroke-width="1.5" />
<line x1="305.5" y1="598.2" x2="313.32" y2="591.3" stroke="#a8a8a8" stroke-width="1.5" />
<line x1="315.1" y1="592.16" x2="322.92" y2="599.06" stroke="#a8a8a8" stroke-width="1.5" />
<line x1="315.1" y1="599.06" x2="322.92" y2="592.16" stroke="#a8a8a8" stroke-width="1.5" />
<line x1="334.31" y1="593.03" x2="342.14" y2="599.93" stroke="#a8a8a8" stroke-width="1.5" />
<line x1="334.31" y1="599.93" x2="342.14" y2="593.03" stroke="#a8a8a8" stroke-width="1.5" />
<line x1="372.74" y1="593.89" x2="380.56" y2="600.79" stroke="#a8a8a8" stroke-width="1.5" />
<line x1="372.74" y1="600.79" x2="380.56" y2="593.89" stroke="#a8a8a8" stroke-width="1.5" />
<line x1="449.59" y1="593.89" x2="457.41" y2="600.79" stroke="#a8a8a8" stroke-width="1.5" />
<line x1="449.59" y1="600.79" x2="457.41" y2="593.89" stroke="#a8a8a8" stroke-width="1.5" />
<circle cx="299.8" cy="512" r="2.28" fill="#1a1a1a"/>
<circle cx="302.2" cy="593.89" r="2.28" fill="#1a1a1a"/>
<circle cx="304.6" cy="595.61" r="2.28" fill="#1a1a1a"/>
<circle cx="309.41" cy="596.48" r="2.28" fill="#1a1a1a"/>
<circle cx="319.01" cy="597.34" r="2.28" fill="#1a1a1a"/>
<circle cx="338.23" cy="597.34" r="2.28" fill="#1a1a1a"/>
<circle cx="376.65" cy="597.34" r="2.28" fill="#1a1a1a"/>
<circle cx="453.5" cy="597.34" r="2.28" fill="#1a1a1a"/>
<line x1="367.6" y1="515.3" x2="378.8" y2="515.3" stroke="#7a7a7a" stroke-width="1.2" />
<path d="M373.2 512.46L375.68 517.19L370.73 517.19Z" fill="#7a7a7a" />
<text x="385.8" y="518.36" font-size="8.55" stroke="#000" stroke-width="0.12">K1</text>
<line x1="367.6" y1="527.7" x2="378.8" y2="527.7" stroke="#7a7a7a" stroke-width="1.2" />
<path d="M373.2 530.53L375.68 525.81L370.73 525.81Z" fill="#7a7a7a" />
<text x="385.8" y="530.76" font-size="8.55" stroke="#000" stroke-width="0.12">K1+heparin</text>
<line x1="367.6" y1="540.1" x2="378.8" y2="540.1" stroke="#111" stroke-width="1.2" />
<rect x="371.02" y="537.92" width="4.37" height="4.37" fill="#111" />
<text x="385.8" y="543.16" font-size="8.55" stroke="#000" stroke-width="0.12">K1K2</text>
<line x1="367.6" y1="552.5" x2="378.8" y2="552.5" stroke="#111" stroke-width="1.2" />
<circle cx="373.2" cy="552.5" r="2.14" fill="#111"/>
<text x="385.8" y="555.56" font-size="8.55" stroke="#000" stroke-width="0.12">K1K2+heparin</text>
<line x1="367.6" y1="564.9" x2="378.8" y2="564.9" stroke="#a8a8a8" stroke-width="1.2" />
<line x1="368.27" y1="560.55" x2="378.13" y2="569.25" stroke="#a8a8a8" stroke-width="1.5" />
<line x1="368.27" y1="569.25" x2="378.13" y2="560.55" stroke="#a8a8a8" stroke-width="1.5" />
<text x="385.8" y="567.96" font-size="8.55" stroke="#000" stroke-width="0.12">Desmolaris</text>
<text x="0.6" y="646.2" font-size="16" font-weight="bold" stroke="#000" stroke-width="0.12">I</text>
<line x1="41.9" y1="657.5" x2="41.9" y2="753.8" stroke="#000" stroke-width="1.1" />
<line x1="38.9" y1="753.8" x2="41.9" y2="753.8" stroke="#000" stroke-width="1.1" />
<text x="38.3" y="756.15" font-size="7.4" font-weight="bold" text-anchor="end" stroke="#000" stroke-width="0.12">0.0</text>
<line x1="38.9" y1="710" x2="41.9" y2="710" stroke="#000" stroke-width="1.1" />
<text x="38.3" y="712.35" font-size="7.4" font-weight="bold" text-anchor="end" stroke="#000" stroke-width="0.12">0.5</text>
<line x1="38.9" y1="666.2" x2="41.9" y2="666.2" stroke="#000" stroke-width="1.1" />
<text x="38.3" y="668.55" font-size="7.4" font-weight="bold" text-anchor="end" stroke="#000" stroke-width="0.12">1.0</text>
<line x1="41.9" y1="753.8" x2="195.4" y2="753.8" stroke="#000" stroke-width="1.1" />
<rect x="45.5" y="675.4" width="18.4" height="78.4" fill="#000" />
<line x1="54.7" y1="753.8" x2="54.7" y2="756.8" stroke="#000" stroke-width="1.1" />
<text x="55" y="763.8" font-size="7.1" font-weight="bold" text-anchor="end" stroke="#000" stroke-width="0.12" transform="rotate(-20 55 763.8)">Desmolaris</text>
<rect x="70.95" y="674.61" width="18.4" height="79.19" fill="#000" />
<line x1="80.15" y1="753.8" x2="80.15" y2="756.8" stroke="#000" stroke-width="1.1" />
<text x="80.45" y="763.8" font-size="7.1" font-weight="bold" text-anchor="end" stroke="#000" stroke-width="0.12" transform="rotate(-20 80.45 763.8)">R32L</text>
<rect x="96.4" y="694.58" width="18.4" height="59.22" fill="#000" />
<line x1="105.6" y1="753.8" x2="105.6" y2="756.8" stroke="#000" stroke-width="1.1" />
<text x="105.9" y="763.8" font-size="7.1" font-weight="bold" text-anchor="end" stroke="#000" stroke-width="0.12" transform="rotate(-20 105.9 763.8)">K1K2</text>
<line x1="131.05" y1="753.8" x2="131.05" y2="756.8" stroke="#000" stroke-width="1.1" />
<text x="131.35" y="763.8" font-size="7.1" font-weight="bold" text-anchor="end" stroke="#000" stroke-width="0.12" transform="rotate(-20 131.35 763.8)">K1</text>
<rect x="147.3" y="665.67" width="18.4" height="88.13" fill="#000" />
<line x1="156.5" y1="753.8" x2="156.5" y2="756.8" stroke="#000" stroke-width="1.1" />
<text x="156.8" y="763.8" font-size="7.1" font-weight="bold" text-anchor="end" stroke="#000" stroke-width="0.12" transform="rotate(-20 156.8 763.8)">K2 Long</text>
<rect x="172.75" y="679.52" width="18.4" height="74.28" fill="#000" />
<line x1="181.95" y1="753.8" x2="181.95" y2="756.8" stroke="#000" stroke-width="1.1" />
<text x="182.25" y="763.8" font-size="7.1" font-weight="bold" text-anchor="end" stroke="#000" stroke-width="0.12" transform="rotate(-20 182.25 763.8)">K2 short</text>
<text x="63.5" y="665.92" font-size="9" stroke="#000" stroke-width="0.12">Heparin-agarose</text>
<text x="23.3" y="706" font-size="8.3" font-weight="bold" text-anchor="middle" stroke="#000" stroke-width="0.12" transform="rotate(-90 23.3 706)">NaCl (M)</text>
<text x="271.2" y="646.5" font-size="16" font-weight="bold" stroke="#000" stroke-width="0.12">J</text>
<text x="248.9" y="743.4" font-size="10.7" font-weight="bold" stroke="#000" stroke-width="0.12">Kunitz-1</text>
<text x="440.2" y="716.8" font-size="10.8" font-weight="bold" stroke="#000" stroke-width="0.12">Kunitz-2</text>
<text x="444.6" y="770" font-size="11" font-weight="bold" stroke="#000" stroke-width="0.12">C-terminus</text>
<text x="390.4" y="665.86" font-size="8" fill="#111" stroke="#111" stroke-width="0.12" textLength="31" lengthAdjust="spacingAndGlyphs">Exosites?</text>
<ellipse cx="334.9" cy="676.6" rx="9.9" ry="16.4" fill="url(#gXIa)" stroke="#8a8a8a" stroke-width="0.5" transform="rotate(6 334.9 676.6)"/>
<ellipse cx="430.2" cy="677.6" rx="10.0" ry="16.8" fill="url(#gXIa)" stroke="#8a8a8a" stroke-width="0.5" transform="rotate(8 430.2 677.6)"/>
<path d="M314.4 670.9 C317.7 670.9 320.7 672.7 320.5 674.3 C319.2 676.4 316.8 678.4 317.7 682.4 C318.5 685.9 320.2 689.4 316.2 690.5 C312.2 691.1 308.8 689.4 308.4 683.4 C307.9 676.9 310.4 671.1 314.4 670.9 Z" fill="url(#gXa)" stroke="#6a6a6a" stroke-width="0.4" />
<path d="M410.3 669.4 C413.6 669.4 416.6 671.2 416.4 672.8 C415.1 674.9 412.7 676.9 413.6 680.9 C414.4 684.4 416.1 687.9 412.1 689 C408.1 689.6 404.7 687.9 404.3 681.9 C403.8 675.4 406.3 669.6 410.3 669.4 Z" fill="url(#gXa)" stroke="#6a6a6a" stroke-width="0.4" />
<text x="336.1" y="678.6" font-size="6.6" font-weight="bold" text-anchor="middle" fill="#1a1a1a" stroke="#1a1a1a" stroke-width="0.12" font-family="Liberation Serif">XIa</text>
<text x="431.3" y="681" font-size="6.6" font-weight="bold" text-anchor="middle" fill="#1a1a1a" stroke="#1a1a1a" stroke-width="0.12" font-family="Liberation Serif">XIa</text>
<text x="313.9" y="683.4" font-size="3.8" font-weight="bold" text-anchor="middle" fill="#333" stroke="#333" stroke-width="0.12" font-family="Liberation Serif">Xa</text>
<text x="409.6" y="682.6" font-size="3.8" font-weight="bold" text-anchor="middle" fill="#333" stroke="#333" stroke-width="0.12" font-family="Liberation Serif">Xa</text>
<path d="M270.5 753.4 C274.58 753.3 287.58 753 295 752.8 C302.42 752.6 309.52 752.4 315 752.2 C320.48 752 325.02 752 327.9 751.6 C330.78 751.2 331.37 750.67 332.3 749.8 C333.23 748.93 333.52 747.77 333.5 746.4 C333.48 745.03 332.98 742.95 332.2 741.6 C331.42 740.25 330.2 738.97 328.8 738.3 C327.4 737.63 325.77 737.32 323.8 737.6 C321.83 737.88 318.98 739.2 317 740 C315.02 740.8 313.77 742.17 311.9 742.4 C310.03 742.63 307.68 742.05 305.8 741.4 C303.92 740.75 301.92 739.77 300.6 738.5 C299.28 737.23 298.45 735.6 297.9 733.8 C297.35 732 297.52 729.4 297.3 727.7 C297.08 726 297.17 724.78 296.6 723.6 C296.03 722.42 294.8 721.72 293.9 720.6 C293 719.48 291.7 718.28 291.2 716.9 C290.7 715.52 290.43 714.08 290.9 712.3 C291.37 710.52 292.45 708.28 294 706.2 C295.55 704.12 297.87 701.73 300.2 699.8 C302.53 697.87 305.53 695.92 308 694.6 C310.47 693.28 312.67 692.42 315 691.9 C317.33 691.38 319.83 691.42 322 691.5 C324.17 691.58 325.6 691.67 328 692.4 C330.4 693.13 334.42 694.48 336.4 695.9 C338.38 697.32 339.45 699.2 339.9 700.9 C340.35 702.6 339.8 704.52 339.1 706.1 C338.4 707.68 336.85 709.4 335.7 710.4 C334.55 711.4 333.2 712.07 332.2 712.1 C331.2 712.13 330.63 711.47 329.7 710.6 C328.77 709.73 327.9 707.9 326.6 706.9 C325.3 705.9 323.75 704.93 321.9 704.6 C320.05 704.27 317.8 704.03 315.5 704.9 C313.2 705.77 310.08 708.02 308.1 709.8 C306.12 711.58 304.48 713.65 303.6 715.6 C302.72 717.55 302.68 719.48 302.8 721.5 C302.92 723.52 303.42 725.92 304.3 727.7 C305.18 729.48 306.95 731.32 308.1 732.2 C309.25 733.08 310.3 733.25 311.2 733 C312.1 732.75 313 731.97 313.5 730.7 C314 729.43 314.02 727.18 314.2 725.4 C314.38 723.62 314.2 721.53 314.6 720 C315 718.47 315.7 717.02 316.6 716.2 C317.5 715.38 318.95 714.73 320 715.1 C321.05 715.47 322.23 717.08 322.9 718.4 C323.57 719.72 323.43 721.62 324 723 C324.57 724.38 325.35 726 326.3 726.7 C327.25 727.4 328.57 727.62 329.7 727.2 C330.83 726.78 332.1 725.42 333.1 724.2 C334.1 722.98 334.83 720.9 335.7 719.9 C336.57 718.9 337.43 718.2 338.3 718.2 C339.17 718.2 340.33 718.75 340.9 719.9 C341.47 721.05 341.85 723.23 341.7 725.1 C341.55 726.97 340.7 729.23 340 731.1 C339.3 732.97 337.78 734.58 337.5 736.3 C337.22 738.02 337.45 739.82 338.3 741.4 C339.15 742.98 340.73 744.63 342.6 745.8 C344.47 746.97 346.93 747.53 349.5 748.4 C352.07 749.27 354.92 750.4 358 751 C361.08 751.6 363.5 751.75 368 752 C372.5 752.25 378.83 752.43 385 752.5 C391.17 752.57 398.93 752.6 405 752.4 C411.07 752.2 417.93 751.78 421.4 751.3 C424.87 750.82 424.87 750.37 425.8 749.5 C426.73 748.63 427.02 747.47 427 746.1 C426.98 744.73 426.48 742.65 425.7 741.3 C424.92 739.95 423.7 738.67 422.3 738 C420.9 737.33 419.27 737.02 417.3 737.3 C415.33 737.58 412.48 738.9 410.5 739.7 C408.52 740.5 407.27 741.87 405.4 742.1 C403.53 742.33 401.18 741.75 399.3 741.1 C397.42 740.45 395.42 739.47 394.1 738.2 C392.78 736.93 391.95 735.3 391.4 733.5 C390.85 731.7 391.02 729.1 390.8 727.4 C390.58 725.7 390.67 724.48 390.1 723.3 C389.53 722.12 388.3 721.42 387.4 720.3 C386.5 719.18 385.2 717.98 384.7 716.6 C384.2 715.22 383.93 713.78 384.4 712 C384.87 710.22 385.95 707.98 387.5 705.9 C389.05 703.82 391.37 701.43 393.7 699.5 C396.03 697.57 399.03 695.62 401.5 694.3 C403.97 692.98 406.17 692.12 408.5 691.6 C410.83 691.08 413.33 691.12 415.5 691.2 C417.67 691.28 419.1 691.37 421.5 692.1 C423.9 692.83 427.92 694.18 429.9 695.6 C431.88 697.02 432.95 698.9 433.4 700.6 C433.85 702.3 433.3 704.22 432.6 705.8 C431.9 707.38 430.35 709.1 429.2 710.1 C428.05 711.1 426.7 711.77 425.7 711.8 C424.7 711.83 424.13 711.17 423.2 710.3 C422.27 709.43 421.4 707.6 420.1 706.6 C418.8 705.6 417.25 704.63 415.4 704.3 C413.55 703.97 411.3 703.73 409 704.6 C406.7 705.47 403.58 707.72 401.6 709.5 C399.62 711.28 397.98 713.35 397.1 715.3 C396.22 717.25 396.18 719.18 396.3 721.2 C396.42 723.22 396.92 725.62 397.8 727.4 C398.68 729.18 400.45 731.02 401.6 731.9 C402.75 732.78 403.8 732.95 404.7 732.7 C405.6 732.45 406.5 731.67 407 730.4 C407.5 729.13 407.52 726.88 407.7 725.1 C407.88 723.32 407.7 721.23 408.1 719.7 C408.5 718.17 409.2 716.72 410.1 715.9 C411 715.08 412.45 714.43 413.5 714.8 C414.55 715.17 415.73 716.78 416.4 718.1 C417.07 719.42 416.93 721.32 417.5 722.7 C418.07 724.08 418.85 725.7 419.8 726.4 C420.75 727.1 422.07 727.32 423.2 726.9 C424.33 726.48 425.6 725.12 426.6 723.9 C427.6 722.68 428.33 720.6 429.2 719.6 C430.07 718.6 430.93 717.9 431.8 717.9 C432.67 717.9 433.83 718.45 434.4 719.6 C434.97 720.75 435.35 722.93 435.2 724.8 C435.05 726.67 434.2 728.93 433.5 730.8 C432.8 732.67 431.28 734.28 431 736 C430.72 737.72 430.95 739.52 431.8 741.1 C432.65 742.68 434.57 744.45 436.1 745.5 C437.63 746.55 439.02 746.78 441 747.4 C442.98 748.02 445.17 748.7 448 749.2 C450.83 749.7 453.05 750.07 458 750.4 C462.95 750.73 469.45 751.02 477.7 751.2 C485.95 751.38 502.53 751.45 507.5 751.5" fill="none" stroke="#3c3c3c" stroke-width="4.2" stroke-linecap="round" stroke-linejoin="round"/>
<path d="M270.5 753.4 C274.58 753.3 287.58 753 295 752.8 C302.42 752.6 309.52 752.4 315 752.2 C320.48 752 325.02 752 327.9 751.6 C330.78 751.2 331.37 750.67 332.3 749.8 C333.23 748.93 333.52 747.77 333.5 746.4 C333.48 745.03 332.98 742.95 332.2 741.6 C331.42 740.25 330.2 738.97 328.8 738.3 C327.4 737.63 325.77 737.32 323.8 737.6 C321.83 737.88 318.98 739.2 317 740 C315.02 740.8 313.77 742.17 311.9 742.4 C310.03 742.63 307.68 742.05 305.8 741.4 C303.92 740.75 301.92 739.77 300.6 738.5 C299.28 737.23 298.45 735.6 297.9 733.8 C297.35 732 297.52 729.4 297.3 727.7 C297.08 726 297.17 724.78 296.6 723.6 C296.03 722.42 294.8 721.72 293.9 720.6 C293 719.48 291.7 718.28 291.2 716.9 C290.7 715.52 290.43 714.08 290.9 712.3 C291.37 710.52 292.45 708.28 294 706.2 C295.55 704.12 297.87 701.73 300.2 699.8 C302.53 697.87 305.53 695.92 308 694.6 C310.47 693.28 312.67 692.42 315 691.9 C317.33 691.38 319.83 691.42 322 691.5 C324.17 691.58 325.6 691.67 328 692.4 C330.4 693.13 334.42 694.48 336.4 695.9 C338.38 697.32 339.45 699.2 339.9 700.9 C340.35 702.6 339.8 704.52 339.1 706.1 C338.4 707.68 336.85 709.4 335.7 710.4 C334.55 711.4 333.2 712.07 332.2 712.1 C331.2 712.13 330.63 711.47 329.7 710.6 C328.77 709.73 327.9 707.9 326.6 706.9 C325.3 705.9 323.75 704.93 321.9 704.6 C320.05 704.27 317.8 704.03 315.5 704.9 C313.2 705.77 310.08 708.02 308.1 709.8 C306.12 711.58 304.48 713.65 303.6 715.6 C302.72 717.55 302.68 719.48 302.8 721.5 C302.92 723.52 303.42 725.92 304.3 727.7 C305.18 729.48 306.95 731.32 308.1 732.2 C309.25 733.08 310.3 733.25 311.2 733 C312.1 732.75 313 731.97 313.5 730.7 C314 729.43 314.02 727.18 314.2 725.4 C314.38 723.62 314.2 721.53 314.6 720 C315 718.47 315.7 717.02 316.6 716.2 C317.5 715.38 318.95 714.73 320 715.1 C321.05 715.47 322.23 717.08 322.9 718.4 C323.57 719.72 323.43 721.62 324 723 C324.57 724.38 325.35 726 326.3 726.7 C327.25 727.4 328.57 727.62 329.7 727.2 C330.83 726.78 332.1 725.42 333.1 724.2 C334.1 722.98 334.83 720.9 335.7 719.9 C336.57 718.9 337.43 718.2 338.3 718.2 C339.17 718.2 340.33 718.75 340.9 719.9 C341.47 721.05 341.85 723.23 341.7 725.1 C341.55 726.97 340.7 729.23 340 731.1 C339.3 732.97 337.78 734.58 337.5 736.3 C337.22 738.02 337.45 739.82 338.3 741.4 C339.15 742.98 340.73 744.63 342.6 745.8 C344.47 746.97 346.93 747.53 349.5 748.4 C352.07 749.27 354.92 750.4 358 751 C361.08 751.6 363.5 751.75 368 752 C372.5 752.25 378.83 752.43 385 752.5 C391.17 752.57 398.93 752.6 405 752.4 C411.07 752.2 417.93 751.78 421.4 751.3 C424.87 750.82 424.87 750.37 425.8 749.5 C426.73 748.63 427.02 747.47 427 746.1 C426.98 744.73 426.48 742.65 425.7 741.3 C424.92 739.95 423.7 738.67 422.3 738 C420.9 737.33 419.27 737.02 417.3 737.3 C415.33 737.58 412.48 738.9 410.5 739.7 C408.52 740.5 407.27 741.87 405.4 742.1 C403.53 742.33 401.18 741.75 399.3 741.1 C397.42 740.45 395.42 739.47 394.1 738.2 C392.78 736.93 391.95 735.3 391.4 733.5 C390.85 731.7 391.02 729.1 390.8 727.4 C390.58 725.7 390.67 724.48 390.1 723.3 C389.53 722.12 388.3 721.42 387.4 720.3 C386.5 719.18 385.2 717.98 384.7 716.6 C384.2 715.22 383.93 713.78 384.4 712 C384.87 710.22 385.95 707.98 387.5 705.9 C389.05 703.82 391.37 701.43 393.7 699.5 C396.03 697.57 399.03 695.62 401.5 694.3 C403.97 692.98 406.17 692.12 408.5 691.6 C410.83 691.08 413.33 691.12 415.5 691.2 C417.67 691.28 419.1 691.37 421.5 692.1 C423.9 692.83 427.92 694.18 429.9 695.6 C431.88 697.02 432.95 698.9 433.4 700.6 C433.85 702.3 433.3 704.22 432.6 705.8 C431.9 707.38 430.35 709.1 429.2 710.1 C428.05 711.1 426.7 711.77 425.7 711.8 C424.7 711.83 424.13 711.17 423.2 710.3 C422.27 709.43 421.4 707.6 420.1 706.6 C418.8 705.6 417.25 704.63 415.4 704.3 C413.55 703.97 411.3 703.73 409 704.6 C406.7 705.47 403.58 707.72 401.6 709.5 C399.62 711.28 397.98 713.35 397.1 715.3 C396.22 717.25 396.18 719.18 396.3 721.2 C396.42 723.22 396.92 725.62 397.8 727.4 C398.68 729.18 400.45 731.02 401.6 731.9 C402.75 732.78 403.8 732.95 404.7 732.7 C405.6 732.45 406.5 731.67 407 730.4 C407.5 729.13 407.52 726.88 407.7 725.1 C407.88 723.32 407.7 721.23 408.1 719.7 C408.5 718.17 409.2 716.72 410.1 715.9 C411 715.08 412.45 714.43 413.5 714.8 C414.55 715.17 415.73 716.78 416.4 718.1 C417.07 719.42 416.93 721.32 417.5 722.7 C418.07 724.08 418.85 725.7 419.8 726.4 C420.75 727.1 422.07 727.32 423.2 726.9 C424.33 726.48 425.6 725.12 426.6 723.9 C427.6 722.68 428.33 720.6 429.2 719.6 C430.07 718.6 430.93 717.9 431.8 717.9 C432.67 717.9 433.83 718.45 434.4 719.6 C434.97 720.75 435.35 722.93 435.2 724.8 C435.05 726.67 434.2 728.93 433.5 730.8 C432.8 732.67 431.28 734.28 431 736 C430.72 737.72 430.95 739.52 431.8 741.1 C432.65 742.68 434.57 744.45 436.1 745.5 C437.63 746.55 439.02 746.78 441 747.4 C442.98 748.02 445.17 748.7 448 749.2 C450.83 749.7 453.05 750.07 458 750.4 C462.95 750.73 469.45 751.02 477.7 751.2 C485.95 751.38 502.53 751.45 507.5 751.5" fill="none" stroke="#979797" stroke-width="2" stroke-linecap="round" stroke-linejoin="round"/>
<line x1="296.9" y1="723.8" x2="302.8" y2="722.5" stroke="#b0b0b0" stroke-width="0.5" />
<line x1="390.4" y1="723.5" x2="396.3" y2="722.2" stroke="#b0b0b0" stroke-width="0.5" />
<line x1="332.4" y1="712.6" x2="336" y2="718.5" stroke="#b0b0b0" stroke-width="0.5" />
<line x1="425.9" y1="712.3" x2="429.5" y2="718.2" stroke="#b0b0b0" stroke-width="0.5" />
<line x1="329" y1="737.9" x2="338" y2="738" stroke="#b0b0b0" stroke-width="0.5" />
<line x1="422.5" y1="737.6" x2="431.5" y2="737.7" stroke="#b0b0b0" stroke-width="0.5" />
<ellipse cx="388.0" cy="697.2" rx="12.6" ry="4.9" fill="url(#gHep)" transform="rotate(-47 388 697.2)"/>
<ellipse cx="472.3" cy="745.8" rx="14.2" ry="4.4" fill="url(#gHep2)"/>
<text x="472.3" y="747.7" font-size="5.4" text-anchor="middle" fill="#333" stroke="#333" stroke-width="0.12" textLength="22.5" lengthAdjust="spacingAndGlyphs">Heparin</text>
<text x="388" y="699" font-size="5" text-anchor="middle" fill="#333" stroke="#333" stroke-width="0.12" transform="rotate(-47 388 699)" textLength="19.5" lengthAdjust="spacingAndGlyphs">Heparin</text>
</svg>
</body></html>
